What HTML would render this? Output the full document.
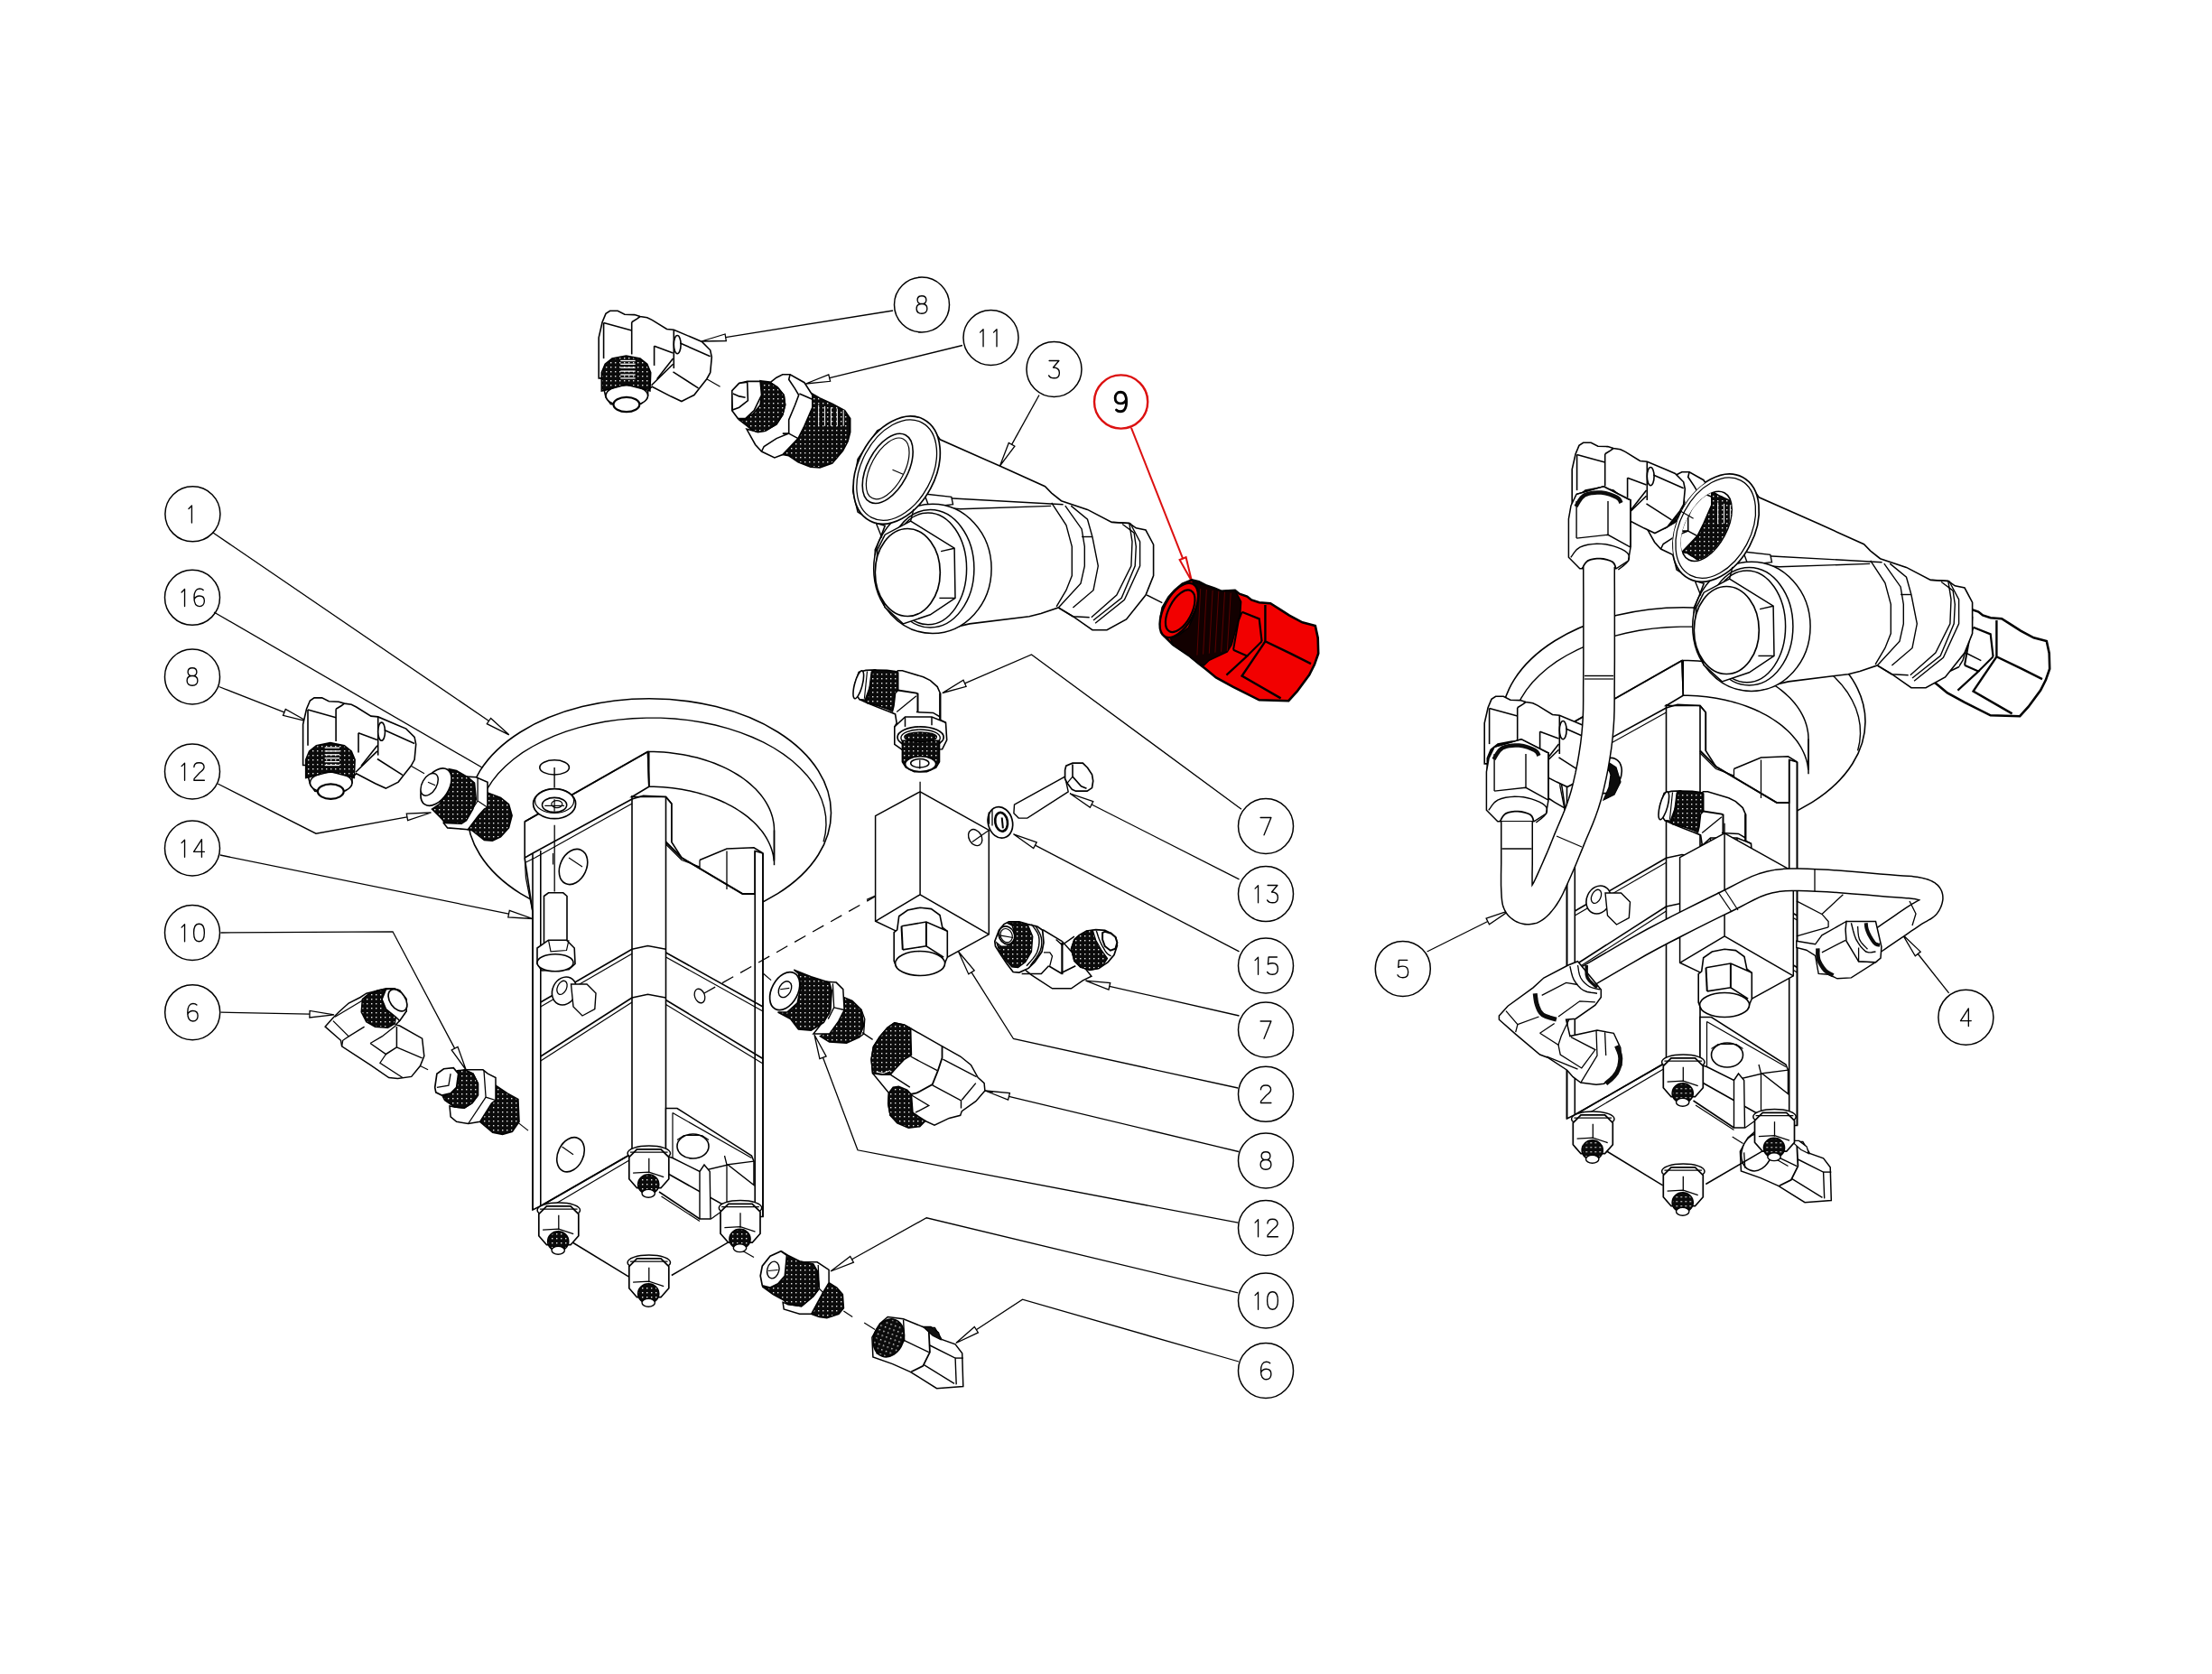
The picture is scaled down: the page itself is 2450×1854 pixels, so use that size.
<!DOCTYPE html>
<html><head><meta charset="utf-8"><style>
html,body{margin:0;padding:0;background:#fff;}
svg{display:block;font-family:"Liberation Sans",sans-serif;}
</style></head><body>
<svg width="2450" height="1854" viewBox="0 0 2450 1854">
<defs><pattern id="thr" width="5" height="5" patternUnits="userSpaceOnUse"><rect width="5" height="5" fill="#0b0b0b"/><rect x="1" y="1" width="1.4" height="1.4" fill="#fff" opacity="0.9"/></pattern><pattern id="thrr" width="5" height="5" patternUnits="userSpaceOnUse"><rect width="5" height="5" fill="#120000"/><rect x="1" y="1" width="1.2" height="1.2" fill="#f00" opacity="0.7"/></pattern></defs>
<rect width="2450" height="1854" fill="#fff"/>
<circle cx="1021.0" cy="337.5" r="30.5" fill="none" stroke="#000" stroke-width="1.5"/>
<path d="M6,9 C2.8,9 1,7.3 1,4.6 C1,1.8 3,0 6,0 C9,0 11,1.8 11,4.6 C11,7.3 9.2,9 6,9 C2.3,9 0,11 0,14.4 C0,17.8 2.4,20 6,20 C9.6,20 12,17.8 12,14.4 C12,11 9.7,9 6,9 Z" transform="translate(1015.12 327.70) scale(0.9800)" fill="none" stroke="#000" stroke-width="1.378" stroke-linejoin="round" stroke-linecap="round"/>
<circle cx="1097.5" cy="374.0" r="30.5" fill="none" stroke="#000" stroke-width="1.5"/>
<path d="M2.5,4 L6,0.5 L6,20" transform="translate(1083.16 364.20) scale(0.9800)" fill="none" stroke="#000" stroke-width="1.378" stroke-linejoin="round" stroke-linecap="round"/>
<path d="M2.5,4 L6,0.5 L6,20" transform="translate(1098.12 364.20) scale(0.9800)" fill="none" stroke="#000" stroke-width="1.378" stroke-linejoin="round" stroke-linecap="round"/>
<circle cx="1167.5" cy="409.0" r="30.5" fill="none" stroke="#000" stroke-width="1.5"/>
<path d="M0.5,0.3 L11.5,0.3 L5,8 C9,8 12,10 12,14 C12,18 9.5,20 6,20 C3,20 1,19 0,17" transform="translate(1161.62 399.20) scale(0.9800)" fill="none" stroke="#000" stroke-width="1.378" stroke-linejoin="round" stroke-linecap="round"/>
<circle cx="1241.6" cy="445.0" r="29.6" fill="none" stroke="#dc1010" stroke-width="2.4"/>
<path d="M1.2,18.4 C2.2,19.5 3.8,20 5.4,20 C9.4,20 11.6,16.4 11.6,10 C11.6,3.6 9.4,0 5.5,0 C2,0 0,2.6 0,6.1 C0,9.6 2.1,11.8 5.5,11.8 C8.6,11.8 10.6,10.2 11.6,7.5" transform="translate(1235.15 434.25) scale(1.0750)" fill="none" stroke="#000" stroke-width="2.605" stroke-linejoin="round" stroke-linecap="round"/>
<circle cx="213.4" cy="569.3" r="30.5" fill="none" stroke="#000" stroke-width="1.5"/>
<path d="M2.5,4 L6,0.5 L6,20" transform="translate(206.54 559.50) scale(0.9800)" fill="none" stroke="#000" stroke-width="1.378" stroke-linejoin="round" stroke-linecap="round"/>
<circle cx="213.0" cy="661.8" r="30.5" fill="none" stroke="#000" stroke-width="1.5"/>
<path d="M2.5,4 L6,0.5 L6,20" transform="translate(198.66 652.00) scale(0.9800)" fill="none" stroke="#000" stroke-width="1.378" stroke-linejoin="round" stroke-linecap="round"/>
<path d="M10.8,1.6 C9.8,0.5 8.2,0 6.6,0 C2.6,0 0.4,3.6 0.4,10 C0.4,16.4 2.6,20 6.5,20 C10,20 12,17.4 12,13.9 C12,10.4 9.9,8.2 6.5,8.2 C3.4,8.2 1.4,9.8 0.4,12.5" transform="translate(214.60 652.00) scale(0.9800)" fill="none" stroke="#000" stroke-width="1.378" stroke-linejoin="round" stroke-linecap="round"/>
<circle cx="213.0" cy="749.5" r="30.5" fill="none" stroke="#000" stroke-width="1.5"/>
<path d="M6,9 C2.8,9 1,7.3 1,4.6 C1,1.8 3,0 6,0 C9,0 11,1.8 11,4.6 C11,7.3 9.2,9 6,9 C2.3,9 0,11 0,14.4 C0,17.8 2.4,20 6,20 C9.6,20 12,17.8 12,14.4 C12,11 9.7,9 6,9 Z" transform="translate(207.12 739.70) scale(0.9800)" fill="none" stroke="#000" stroke-width="1.378" stroke-linejoin="round" stroke-linecap="round"/>
<circle cx="213.0" cy="854.5" r="30.5" fill="none" stroke="#000" stroke-width="1.5"/>
<path d="M2.5,4 L6,0.5 L6,20" transform="translate(198.66 844.70) scale(0.9800)" fill="none" stroke="#000" stroke-width="1.378" stroke-linejoin="round" stroke-linecap="round"/>
<path d="M0.3,5 C0.3,1.8 2.5,0 6,0 C9.5,0 11.7,1.8 11.7,5 C11.7,8 9,9.5 6.5,11.5 L0.5,18 L0.3,20 L12,20" transform="translate(214.60 844.70) scale(0.9800)" fill="none" stroke="#000" stroke-width="1.378" stroke-linejoin="round" stroke-linecap="round"/>
<circle cx="213.0" cy="939.5" r="30.5" fill="none" stroke="#000" stroke-width="1.5"/>
<path d="M2.5,4 L6,0.5 L6,20" transform="translate(198.66 929.70) scale(0.9800)" fill="none" stroke="#000" stroke-width="1.378" stroke-linejoin="round" stroke-linecap="round"/>
<path d="M9,20 L9,0 L0,14 L12,14" transform="translate(214.60 929.70) scale(0.9800)" fill="none" stroke="#000" stroke-width="1.378" stroke-linejoin="round" stroke-linecap="round"/>
<circle cx="213.0" cy="1033.0" r="30.5" fill="none" stroke="#000" stroke-width="1.5"/>
<path d="M2.5,4 L6,0.5 L6,20" transform="translate(198.66 1023.20) scale(0.9800)" fill="none" stroke="#000" stroke-width="1.378" stroke-linejoin="round" stroke-linecap="round"/>
<path d="M6,0 C1.5,0 0,4 0,10 C0,16 1.5,20 6,20 C10.5,20 12,16 12,10 C12,4 10.5,0 6,0 Z" transform="translate(214.60 1023.20) scale(0.9800)" fill="none" stroke="#000" stroke-width="1.378" stroke-linejoin="round" stroke-linecap="round"/>
<circle cx="213.2" cy="1121.2" r="30.5" fill="none" stroke="#000" stroke-width="1.5"/>
<path d="M10.8,1.6 C9.8,0.5 8.2,0 6.6,0 C2.6,0 0.4,3.6 0.4,10 C0.4,16.4 2.6,20 6.5,20 C10,20 12,17.4 12,13.9 C12,10.4 9.9,8.2 6.5,8.2 C3.4,8.2 1.4,9.8 0.4,12.5" transform="translate(207.37 1111.45) scale(0.9800)" fill="none" stroke="#000" stroke-width="1.378" stroke-linejoin="round" stroke-linecap="round"/>
<circle cx="1402.0" cy="915.0" r="30.5" fill="none" stroke="#000" stroke-width="1.5"/>
<path d="M0,0.3 L12,0.3 L4,20" transform="translate(1396.12 905.20) scale(0.9800)" fill="none" stroke="#000" stroke-width="1.378" stroke-linejoin="round" stroke-linecap="round"/>
<circle cx="1402.0" cy="990.0" r="30.5" fill="none" stroke="#000" stroke-width="1.5"/>
<path d="M2.5,4 L6,0.5 L6,20" transform="translate(1387.66 980.20) scale(0.9800)" fill="none" stroke="#000" stroke-width="1.378" stroke-linejoin="round" stroke-linecap="round"/>
<path d="M0.5,0.3 L11.5,0.3 L5,8 C9,8 12,10 12,14 C12,18 9.5,20 6,20 C3,20 1,19 0,17" transform="translate(1403.60 980.20) scale(0.9800)" fill="none" stroke="#000" stroke-width="1.378" stroke-linejoin="round" stroke-linecap="round"/>
<circle cx="1402.0" cy="1069.5" r="30.5" fill="none" stroke="#000" stroke-width="1.5"/>
<path d="M2.5,4 L6,0.5 L6,20" transform="translate(1387.66 1059.70) scale(0.9800)" fill="none" stroke="#000" stroke-width="1.378" stroke-linejoin="round" stroke-linecap="round"/>
<path d="M11,0.3 L1.5,0.3 L0.8,8.5 C2.3,7.6 4.2,7.2 6,7.2 C9.7,7.2 12,9.7 12,13.6 C12,17.6 9.5,20 6,20 C3,20 1,19 0,17" transform="translate(1403.60 1059.70) scale(0.9800)" fill="none" stroke="#000" stroke-width="1.378" stroke-linejoin="round" stroke-linecap="round"/>
<circle cx="1402.0" cy="1140.5" r="30.5" fill="none" stroke="#000" stroke-width="1.5"/>
<path d="M0,0.3 L12,0.3 L4,20" transform="translate(1396.12 1130.70) scale(0.9800)" fill="none" stroke="#000" stroke-width="1.378" stroke-linejoin="round" stroke-linecap="round"/>
<circle cx="1402.0" cy="1211.8" r="30.5" fill="none" stroke="#000" stroke-width="1.5"/>
<path d="M0.3,5 C0.3,1.8 2.5,0 6,0 C9.5,0 11.7,1.8 11.7,5 C11.7,8 9,9.5 6.5,11.5 L0.5,18 L0.3,20 L12,20" transform="translate(1396.12 1201.95) scale(0.9800)" fill="none" stroke="#000" stroke-width="1.378" stroke-linejoin="round" stroke-linecap="round"/>
<circle cx="1402.0" cy="1285.5" r="30.5" fill="none" stroke="#000" stroke-width="1.5"/>
<path d="M6,9 C2.8,9 1,7.3 1,4.6 C1,1.8 3,0 6,0 C9,0 11,1.8 11,4.6 C11,7.3 9.2,9 6,9 C2.3,9 0,11 0,14.4 C0,17.8 2.4,20 6,20 C9.6,20 12,17.8 12,14.4 C12,11 9.7,9 6,9 Z" transform="translate(1396.12 1275.70) scale(0.9800)" fill="none" stroke="#000" stroke-width="1.378" stroke-linejoin="round" stroke-linecap="round"/>
<circle cx="1402.0" cy="1360.0" r="30.5" fill="none" stroke="#000" stroke-width="1.5"/>
<path d="M2.5,4 L6,0.5 L6,20" transform="translate(1387.66 1350.20) scale(0.9800)" fill="none" stroke="#000" stroke-width="1.378" stroke-linejoin="round" stroke-linecap="round"/>
<path d="M0.3,5 C0.3,1.8 2.5,0 6,0 C9.5,0 11.7,1.8 11.7,5 C11.7,8 9,9.5 6.5,11.5 L0.5,18 L0.3,20 L12,20" transform="translate(1403.60 1350.20) scale(0.9800)" fill="none" stroke="#000" stroke-width="1.378" stroke-linejoin="round" stroke-linecap="round"/>
<circle cx="1402.0" cy="1440.5" r="30.5" fill="none" stroke="#000" stroke-width="1.5"/>
<path d="M2.5,4 L6,0.5 L6,20" transform="translate(1387.66 1430.70) scale(0.9800)" fill="none" stroke="#000" stroke-width="1.378" stroke-linejoin="round" stroke-linecap="round"/>
<path d="M6,0 C1.5,0 0,4 0,10 C0,16 1.5,20 6,20 C10.5,20 12,16 12,10 C12,4 10.5,0 6,0 Z" transform="translate(1403.60 1430.70) scale(0.9800)" fill="none" stroke="#000" stroke-width="1.378" stroke-linejoin="round" stroke-linecap="round"/>
<circle cx="1402.0" cy="1518.0" r="30.5" fill="none" stroke="#000" stroke-width="1.5"/>
<path d="M10.8,1.6 C9.8,0.5 8.2,0 6.6,0 C2.6,0 0.4,3.6 0.4,10 C0.4,16.4 2.6,20 6.5,20 C10,20 12,17.4 12,13.9 C12,10.4 9.9,8.2 6.5,8.2 C3.4,8.2 1.4,9.8 0.4,12.5" transform="translate(1396.12 1508.20) scale(0.9800)" fill="none" stroke="#000" stroke-width="1.378" stroke-linejoin="round" stroke-linecap="round"/>
<circle cx="1553.8" cy="1072.9" r="30.5" fill="none" stroke="#000" stroke-width="1.5"/>
<path d="M11,0.3 L1.5,0.3 L0.8,8.5 C2.3,7.6 4.2,7.2 6,7.2 C9.7,7.2 12,9.7 12,13.6 C12,17.6 9.5,20 6,20 C3,20 1,19 0,17" transform="translate(1547.92 1063.10) scale(0.9800)" fill="none" stroke="#000" stroke-width="1.378" stroke-linejoin="round" stroke-linecap="round"/>
<circle cx="2177.4" cy="1126.7" r="30.5" fill="none" stroke="#000" stroke-width="1.5"/>
<path d="M9,20 L9,0 L0,14 L12,14" transform="translate(2171.52 1116.90) scale(0.9800)" fill="none" stroke="#000" stroke-width="1.378" stroke-linejoin="round" stroke-linecap="round"/>
<path d="M989.0,344.0 L803.7,373.7" stroke="#000" stroke-width="1.3" fill="none"/>
<path d="M777.0,378.0 L803.1,370.0 L804.3,377.5 Z" stroke="#000" stroke-width="1.3" fill="none"/>
<path d="M1066.0,382.5 L918.7,418.6" stroke="#000" stroke-width="1.3" fill="none"/>
<path d="M892.5,425.0 L917.8,414.9 L919.6,422.3 Z" stroke="#000" stroke-width="1.3" fill="none"/>
<path d="M1151.0,437.5 L1120.6,492.4" stroke="#000" stroke-width="1.3" fill="none"/>
<path d="M1107.5,516.0 L1117.3,490.5 L1123.9,494.2 Z" stroke="#000" stroke-width="1.3" fill="none"/>
<path d="M1253.0,473.8 L1310.1,618.6" stroke="#dc1010" stroke-width="2.0" fill="none"/>
<path d="M1320.0,643.8 L1306.6,620.0 L1313.6,617.2 Z" stroke="#dc1010" stroke-width="2.0" fill="none"/>
<path d="M236.0,590.0 L541.5,798.5" stroke="#000" stroke-width="1.3" fill="none"/>
<path d="M563.8,813.8 L539.3,801.7 L543.6,795.4 Z" stroke="#000" stroke-width="1.3" fill="none"/>
<path d="M237.0,678.0 L566.6,869.0" stroke="#000" stroke-width="1.3" fill="none"/>
<path d="M590.0,882.5 L564.7,872.3 L568.5,865.7 Z" stroke="#000" stroke-width="1.3" fill="none"/>
<path d="M242.5,760.5 L314.9,788.9" stroke="#000" stroke-width="1.3" fill="none"/>
<path d="M340.0,798.8 L313.5,792.4 L316.3,785.4 Z" stroke="#000" stroke-width="1.3" fill="none"/>
<path d="M241.2,868.0 L350.0,923.2 L450.9,904.8" stroke="#000" stroke-width="1.3" fill="none"/>
<path d="M477.5,900.0 L451.6,908.6 L450.3,901.1 Z" stroke="#000" stroke-width="1.3" fill="none"/>
<path d="M243.8,947.0 L563.5,1012.1" stroke="#000" stroke-width="1.3" fill="none"/>
<path d="M590.0,1017.5 L562.8,1015.8 L564.3,1008.4 Z" stroke="#000" stroke-width="1.3" fill="none"/>
<path d="M244.5,1033.0 L435.0,1031.8 L503.6,1161.1" stroke="#000" stroke-width="1.3" fill="none"/>
<path d="M516.2,1185.0 L500.2,1162.9 L507.0,1159.4 Z" stroke="#000" stroke-width="1.3" fill="none"/>
<path d="M244.5,1121.2 L343.0,1123.2" stroke="#000" stroke-width="1.3" fill="none"/>
<path d="M370.0,1123.8 L342.9,1127.0 L343.1,1119.4 Z" stroke="#000" stroke-width="1.3" fill="none"/>
<path d="M1375.0,896.2 L1142.5,725.0 L1068.6,756.8" stroke="#000" stroke-width="1.3" fill="none"/>
<path d="M1043.8,767.5 L1067.0,753.3 L1070.1,760.3 Z" stroke="#000" stroke-width="1.3" fill="none"/>
<path d="M1372.5,973.8 L1209.1,891.0" stroke="#000" stroke-width="1.3" fill="none"/>
<path d="M1185.0,878.8 L1210.8,887.6 L1207.4,894.3 Z" stroke="#000" stroke-width="1.3" fill="none"/>
<path d="M1372.5,1053.8 L1146.5,936.2" stroke="#000" stroke-width="1.3" fill="none"/>
<path d="M1122.5,923.8 L1148.2,932.8 L1144.7,939.6 Z" stroke="#000" stroke-width="1.3" fill="none"/>
<path d="M1372.5,1125.0 L1228.8,1092.3" stroke="#000" stroke-width="1.3" fill="none"/>
<path d="M1202.5,1086.2 L1229.7,1088.5 L1228.0,1096.0 Z" stroke="#000" stroke-width="1.3" fill="none"/>
<path d="M1371.2,1205.0 L1122.5,1150.5 L1076.0,1076.8" stroke="#000" stroke-width="1.3" fill="none"/>
<path d="M1061.6,1054.0 L1079.2,1074.8 L1072.8,1078.9 Z" stroke="#000" stroke-width="1.3" fill="none"/>
<path d="M1372.0,1275.5 L1117.5,1214.3" stroke="#000" stroke-width="1.3" fill="none"/>
<path d="M1091.2,1208.0 L1118.4,1210.6 L1116.6,1218.0 Z" stroke="#000" stroke-width="1.3" fill="none"/>
<path d="M1371.2,1354.2 L950.0,1273.8 L911.5,1171.3" stroke="#000" stroke-width="1.3" fill="none"/>
<path d="M902.0,1146.0 L915.1,1169.9 L907.9,1172.6 Z" stroke="#000" stroke-width="1.3" fill="none"/>
<path d="M1371.2,1431.8 L1026.2,1348.8 L943.6,1394.8" stroke="#000" stroke-width="1.3" fill="none"/>
<path d="M920.0,1408.0 L941.7,1391.5 L945.4,1398.2 Z" stroke="#000" stroke-width="1.3" fill="none"/>
<path d="M1372.0,1508.0 L1132.5,1439.2 L1081.3,1472.7" stroke="#000" stroke-width="1.3" fill="none"/>
<path d="M1058.8,1487.5 L1079.3,1469.5 L1083.4,1475.9 Z" stroke="#000" stroke-width="1.3" fill="none"/>
<path d="M1580.6,1054.0 L1647.8,1020.5" stroke="#000" stroke-width="1.3" fill="none"/>
<path d="M1672.0,1008.4 L1649.5,1023.9 L1646.1,1017.1 Z" stroke="#000" stroke-width="1.3" fill="none"/>
<path d="M2158.6,1099.8 L2124.3,1056.5" stroke="#000" stroke-width="1.3" fill="none"/>
<path d="M2107.5,1035.3 L2127.2,1054.1 L2121.3,1058.8 Z" stroke="#000" stroke-width="1.3" fill="none"/>
<path d="M1285.7,683.5 L1287.6,673.0 L1294.3,661.5 L1301.0,653.9 L1309.6,646.7 L1320.1,642.4 L1327.8,644.3 L1335.4,648.2 L1345.0,651.5 L1352.6,654.8 L1360.3,654.4 L1367.9,653.9 L1372.7,657.7 L1381.3,660.6 L1386.1,664.4 L1394.7,667.3 L1407.1,668.2 L1417.6,674.9 L1428.1,681.6 L1442.5,689.3 L1456.8,693.1 L1459.7,706.5 L1460.2,723.7 L1455.9,736.1 L1450.1,747.6 L1436.7,765.7 L1427.2,776.2 L1394.7,775.3 L1366.0,760.9 L1346.9,750.4 L1336.4,741.8 L1327.8,735.1 L1316.3,725.6 L1299.1,714.1 L1289.6,704.5 Z" stroke="#000" stroke-width="2.6" fill="#f20000"/>
<path d="M1321.1,644.3 L1335.4,648.2 L1352.6,654.8 L1367.9,653.9 L1374.6,666.3 L1373.7,679.7 L1368.9,696.9 L1364.1,714.1 L1359.3,721.8 L1339.3,731.3 L1333.5,737.0 L1327.8,735.1 L1316.3,725.6 L1299.1,714.1 L1296.2,706.5 L1306.8,702.6 L1316.3,695.0 L1322.1,682.6 L1324.0,666.3 L1323.0,653.9 Z" stroke="#000" stroke-width="1.5" fill="#120000"/>
<path d="M1329.7,652.0 L1325.9,725.6" stroke="#5a0000" stroke-width="1.0" fill="none"/>
<path d="M1336.4,652.9 L1332.6,724.6" stroke="#5a0000" stroke-width="1.0" fill="none"/>
<path d="M1343.1,653.9 L1339.3,723.7" stroke="#5a0000" stroke-width="1.0" fill="none"/>
<path d="M1349.8,654.8 L1345.9,722.7" stroke="#5a0000" stroke-width="1.0" fill="none"/>
<path d="M1356.5,655.8 L1352.6,721.8" stroke="#5a0000" stroke-width="1.0" fill="none"/>
<path d="M1363.2,656.8 L1359.3,720.8" stroke="#5a0000" stroke-width="1.0" fill="none"/>
<ellipse cx="1305.8" cy="675.9" rx="33.0" ry="16.5" fill="#f20000" stroke="#000" stroke-width="2.4" transform="rotate(-62.0 1305.8 675.9)"/>
<ellipse cx="1307.2" cy="676.8" rx="25.5" ry="12.5" fill="#f20000" stroke="#000" stroke-width="2.2" transform="rotate(-62.0 1307.2 676.8)"/>
<path d="M1375.6,677.8 L1394.7,685.4 L1397.6,710.3" stroke="#000" stroke-width="2.2" fill="none"/>
<path d="M1366.0,719.8 L1381.3,726.5 L1358.4,747.6" stroke="#000" stroke-width="2.2" fill="none"/>
<path d="M1375.6,677.8 L1371.8,687.3 L1366.0,719.8" stroke="#000" stroke-width="2.0" fill="none"/>
<path d="M1401.4,670.1 L1401.4,710.3 L1429.1,723.7 L1452.0,735.1" stroke="#000" stroke-width="2.4" fill="none"/>
<path d="M1401.4,710.3 L1375.6,748.5 L1418.6,773.4" stroke="#000" stroke-width="2.4" fill="none"/>
<path d="M1397.6,710.3 L1381.3,726.5" stroke="#000" stroke-width="2.0" fill="none"/>
<path d="M663.2,418.9 L663.2,373.8 L667.1,356.7 L671.0,347.4 L675.6,344.3 L684.2,344.3 L691.9,348.2 L702.8,348.6 L709.0,350.5 L716.8,351.7 L722.2,354.4 L738.5,364.5 L746.3,365.3 L766.5,373.8 L777.4,378.5 L786.7,387.8 L788.3,395.6 L786.7,412.7 L782.8,419.7 L774.3,430.5 L768.8,437.5 L754.9,444.5 L743.2,439.1 L722.2,428.2 L717.6,432.1 L717.6,438.3 L710.6,446.8 L694.3,450.0 L676.4,447.6 L671.0,439.9 L667.9,426.7 L666.3,418.9 Z" stroke="#000" stroke-width="1.6" fill="#fff"/>
<path d="M668.6,357.5 L699.7,366.1" stroke="#000" stroke-width="1.6" fill="none"/>
<path d="M668.6,357.5 L668.6,397.1" stroke="#000" stroke-width="1.6" fill="none"/>
<path d="M699.7,356.7 L699.7,392.5" stroke="#000" stroke-width="1.6" fill="none"/>
<path d="M699.7,356.7 L705.9,352.9 L709.0,350.5" stroke="#000" stroke-width="1.6" fill="none"/>
<path d="M724.6,383.2 L724.6,404.9" stroke="#000" stroke-width="1.6" fill="none"/>
<path d="M724.6,383.2 L745.5,390.9" stroke="#000" stroke-width="1.6" fill="none"/>
<path d="M746.3,365.3 L746.3,408.0" stroke="#000" stroke-width="1.6" fill="none"/>
<ellipse cx="750.2" cy="381.6" rx="3.9" ry="10.1" fill="#fff" stroke="#000" stroke-width="1.6"/>
<path d="M753.3,380.0 L786.7,394.8" stroke="#000" stroke-width="1.6" fill="none"/>
<path d="M745.5,411.9 L773.5,429.8" stroke="#000" stroke-width="1.6" fill="none"/>
<path d="M721.5,426.7 L745.5,403.3" stroke="#000" stroke-width="1.6" fill="none"/>
<path d="M727.7,419.7 L745.5,397.1" stroke="#000" stroke-width="1.6" fill="none"/>
<path d="M782.8,419.7 L797.6,428.2" stroke="#000" stroke-width="1.2" fill="none"/>
<ellipse cx="694.3" cy="438.3" rx="23.3" ry="11.7" fill="#fff" stroke="#000" stroke-width="1.6"/>
<path d="M666.3,432.9 L666.3,412.7 L670.2,403.3 L678.0,397.1 L693.5,394.0 L709.0,397.1 L716.8,403.3 L720.7,412.7 L719.9,432.9 L716.8,432.1 L693.5,425.9 L670.2,432.1 Z" stroke="#000" stroke-width="1.6" fill="url(#thr)"/>
<path d="M687.3,399.5 L703.6,399.5" stroke="#fff" stroke-width="1.3" fill="none"/>
<path d="M687.3,403.3 L703.6,403.3" stroke="#fff" stroke-width="1.3" fill="none"/>
<path d="M687.3,407.2 L703.6,407.2" stroke="#fff" stroke-width="1.3" fill="none"/>
<path d="M687.3,411.1 L703.6,411.1" stroke="#fff" stroke-width="1.3" fill="none"/>
<path d="M687.3,415.0 L703.6,415.0" stroke="#fff" stroke-width="1.3" fill="none"/>
<path d="M687.3,418.9 L703.6,418.9" stroke="#fff" stroke-width="1.3" fill="none"/>
<ellipse cx="693.9" cy="448.0" rx="14.4" ry="8.2" fill="#fff" stroke="#000" stroke-width="2.2"/>
<path d="M899.8,436.1 L908.1,440.9 L921.8,447.1 L935.6,454.7 L941.7,463.6 L941.7,478.7 L939.0,489.0 L933.5,499.3 L921.8,513.1 L908.1,517.9 L897.8,517.2 L884.0,511.7 L873.7,504.8 L866.8,503.5 L884.0,485.6 L890.9,471.8 L899.8,451.2 Z" stroke="#000" stroke-width="1.6" fill="url(#thr)"/>
<path d="M853.1,423.7 L860.0,418.2 L866.8,414.8 L875.1,414.8 L890.9,423.7 L899.8,437.5 L899.8,451.2 L890.9,471.8 L884.0,485.6 L866.8,503.5 L857.9,506.9 L843.5,500.0 L836.6,492.5 L827.0,475.3 L838.0,478.0 L847.6,477.3 L860.0,469.8 L866.8,459.5 L869.6,448.5 L868.2,437.5 L861.3,429.2 Z" stroke="#000" stroke-width="1.6" fill="#fff"/>
<path d="M875.1,414.8 L873.7,420.3 L880.6,430.6 L884.7,437.5 L880.6,448.5 L873.7,465.0 L873.7,480.1 L866.8,480.1" stroke="#000" stroke-width="1.6" fill="none"/>
<path d="M885.4,436.1 L899.8,442.3" stroke="#000" stroke-width="1.6" fill="none"/>
<path d="M873.7,480.1 L884.0,485.6" stroke="#000" stroke-width="1.6" fill="none"/>
<path d="M843.5,500.0 L846.2,494.5 L860.0,485.6 L873.7,480.1" stroke="#000" stroke-width="1.6" fill="none"/>
<path d="M842.1,421.7 L852.4,423.1 L861.3,429.2 L868.2,437.5 L869.6,448.5 L866.8,459.5 L860.0,469.8 L847.6,477.3 L839.4,478.7 L832.5,476.0 L827.7,471.8 L818.7,465.0 L825.6,463.6 L834.5,458.1 L842.1,448.5 L843.5,437.5 Z" stroke="#000" stroke-width="1.6" fill="url(#thr)"/>
<path d="M810.8,432.7 L818.7,424.4 L827.7,422.4 L842.1,422.4 L843.5,437.5 L835.2,454.7 L825.6,463.6 L817.4,463.6 L810.8,454.7 Z" stroke="#000" stroke-width="1.6" fill="#fff"/>
<path d="M810.8,432.7 L818.7,424.4 L827.7,423.1 L828.4,443.7 L818.7,451.2 L811.2,454.0 Z" stroke="#000" stroke-width="1.6" fill="#fff"/>
<path d="M811.9,436.1 L818.7,438.9 L825.6,440.2" stroke="#000" stroke-width="1.6" fill="none"/>
<path d="M906.7,448.5 L906.7,471.8" stroke="#fff" stroke-width="1.0" fill="none"/>
<path d="M913.6,449.9 L913.6,471.8" stroke="#fff" stroke-width="1.0" fill="none"/>
<path d="M920.4,451.2 L920.4,471.8" stroke="#fff" stroke-width="1.0" fill="none"/>
<path d="M927.3,452.6 L927.3,471.8" stroke="#fff" stroke-width="1.0" fill="none"/>
<path d="M934.2,454.0 L934.2,471.8" stroke="#fff" stroke-width="1.0" fill="none"/>
<path d="M1030.4,471.7 L1041.2,486.8 L1107.3,516.1 L1157.5,538.7 L1164.7,546.1 L1175.5,554.7 L1204.5,564.4 L1231.4,578.4 L1250.8,579.5 L1258.3,584.8 L1269.0,587.0 L1277.6,603.1 L1277.6,637.5 L1269.0,659.0 L1247.5,685.9 L1226.0,697.7 L1209.9,697.7 L1199.1,690.2 L1188.4,682.7 L1172.3,673.0 L1152.9,679.5 L1140.0,682.7 L1073.9,690.9 L1030.4,700.9 L1000.3,690.9 L980.2,672.5 L969.3,642.4 L969.3,608.9 L975.2,595.5 L980.2,582.2 L968.5,578.8 L950.1,567.1 L944.7,543.7 L950.1,508.5 L971.8,476.8 L1003.6,462.5 Z" stroke="#000" stroke-width="1.6" fill="#fff"/>
<path d="M1164.7,556.9 L1180.9,581.6 L1187.3,605.3 L1187.3,637.5 L1180.9,653.7 L1170.1,671.9" stroke="#000" stroke-width="1.4" fill="none"/>
<path d="M1179.8,560.1 L1198.1,585.9 L1201.3,605.3 L1201.3,626.8 L1197.0,646.1 L1172.3,673.0" stroke="#000" stroke-width="1.4" fill="none"/>
<path d="M1186.2,560.1 L1204.5,575.2 L1209.9,594.5 L1216.3,626.8 L1211.0,653.7 L1188.4,673.0" stroke="#000" stroke-width="1.4" fill="none"/>
<path d="M1232.5,578.4 L1250.8,579.5 L1254.0,599.9 L1252.9,626.8 L1236.8,659.0 L1208.8,683.8" stroke="#000" stroke-width="1.4" fill="none"/>
<path d="M1243.2,580.5 L1256.1,590.2 L1258.3,605.3 L1257.2,626.8 L1242.2,662.3 L1211.0,687.0" stroke="#000" stroke-width="1.4" fill="none"/>
<path d="M1251.8,579.5 L1262.6,599.9 L1262.6,626.8 L1245.4,664.4 L1213.1,690.2" stroke="#000" stroke-width="1.4" fill="none"/>
<path d="M1270.1,659.0 L1287.3,667.6" stroke="#000" stroke-width="1.4" fill="none"/>
<path d="M1198.1,594.5 L1209.9,594.5" stroke="#000" stroke-width="1.4" fill="none"/>
<path d="M1172.3,673.0 L1188.4,682.7 L1206.7,683.8" stroke="#000" stroke-width="1.4" fill="none"/>
<path d="M1012.0,549.5 L1055.5,552.0 L1177.6,558.7" stroke="#000" stroke-width="1.4" fill="none"/>
<path d="M1023.7,560.4 L1063.8,563.8 L1164.2,560.4" stroke="#000" stroke-width="1.4" fill="none"/>
<path d="M1012.0,549.5 L1023.7,547.0 L1053.8,550.4 L1055.5,558.7 L1023.7,562.1 L1015.3,557.1 Z" stroke="#000" stroke-width="1.4" fill="#fff"/>
<path d="M1023.7,547.0 L1028.7,560.4" stroke="#000" stroke-width="1.4" fill="none"/>
<ellipse cx="1032.9" cy="629.8" rx="65.2" ry="71.6" fill="#fff" stroke="#000" stroke-width="1.5"/>
<ellipse cx="1030.4" cy="629.8" rx="48.5" ry="65.2" fill="none" stroke="#000" stroke-width="1.5"/>
<ellipse cx="1027.9" cy="629.8" rx="42.7" ry="61.9" fill="none" stroke="#000" stroke-width="1.5"/>
<path d="M971.8,608.9 L980.2,592.2 L1008.6,577.1 L1057.1,607.2 L1058.0,662.4 L1030.4,680.8 L1000.3,690.9 L980.2,672.5 L970.1,642.4 Z" stroke="#000" stroke-width="1.5" fill="#fff"/>
<path d="M1040.4,662.4 L1058.0,662.4" stroke="#000" stroke-width="1.4" fill="none"/>
<path d="M1042.1,610.6 L1057.1,607.2" stroke="#000" stroke-width="1.4" fill="none"/>
<ellipse cx="1005.3" cy="634.0" rx="36.0" ry="48.5" fill="#fff" stroke="#000" stroke-width="1.7"/>
<ellipse cx="993.2" cy="520.6" rx="63.6" ry="42.7" fill="#fff" stroke="#000" stroke-width="1.7" transform="rotate(-62.0 993.2 520.6)"/>
<ellipse cx="993.2" cy="520.6" rx="59.5" ry="39.0" fill="none" stroke="#000" stroke-width="1.3" transform="rotate(-62.0 993.2 520.6)"/>
<ellipse cx="983.2" cy="518.9" rx="42.0" ry="22.5" fill="#fff" stroke="#000" stroke-width="1.6" transform="rotate(-62.0 983.2 518.9)"/>
<ellipse cx="983.2" cy="518.9" rx="37.0" ry="18.5" fill="none" stroke="#000" stroke-width="1.2" transform="rotate(-62.0 983.2 518.9)"/>
<path d="M988.5,520.3 L1000.3,525.3" stroke="#000" stroke-width="1.2" fill="none"/>
<path d="M970.1,578.8 L976.8,595.5" stroke="#000" stroke-width="1.4" fill="none"/>
<path d="M1012.0,563.8 L1008.6,577.1" stroke="#000" stroke-width="1.4" fill="none"/>
<ellipse cx="719.0" cy="900.2" rx="201.5" ry="126.5" fill="#fff" stroke="#000" stroke-width="1.6"/>
<path d="M529.7,901.8 L531.7,892.4 L534.9,883.2 L539.4,874.1 L545.0,865.3 L551.8,856.8 L559.7,848.7 L568.6,841.0 L578.6,833.7 L589.5,827.0 L601.2,820.8 L613.7,815.1 L627.0,810.2 L640.8,805.9 L655.2,802.2 L670.0,799.3 L685.2,797.1 L700.6,795.7 L716.1,795.1 L731.7,795.1 L747.2,796.0 L762.5,797.6 L777.6,800.0 L792.3,803.0 L806.6,806.8 L820.3,811.3 L833.4,816.5 L845.7,822.2 L857.3,828.5 L867.9,835.4 L877.6,842.8 L886.3,850.7 L894.0,858.9 L900.5,867.5 L905.8,876.3 L910.0,885.4 L912.9,894.7 L914.6,904.1 L915.0,913.5 L914.2,923.0 L912.1,932.3" stroke="#000" stroke-width="1.4" fill="none"/>
<path d="M718.8,832.5 L718.8,832.5 L724.2,832.6 L729.6,832.8 L735.1,833.1 L740.5,833.6 L745.8,834.2 L751.1,834.9 L756.4,835.8 L761.6,836.8 L766.8,837.9 L771.8,839.1 L776.8,840.5 L781.7,842.0 L786.5,843.6 L791.2,845.3 L795.8,847.2 L800.3,849.1 L804.6,851.2 L808.9,853.3 L812.9,855.6 L816.9,858.0 L820.6,860.4 L824.3,863.0 L827.7,865.6 L831.0,868.4 L834.1,871.2 L837.1,874.0 L839.8,877.0 L842.4,880.0 L844.8,883.1 L846.9,886.2 L848.9,889.4 L850.7,892.6 L852.3,895.9 L853.7,899.2 L854.8,902.5 L855.8,905.9 L856.5,909.3 L857.1,912.7 L857.4,916.1 L857.5,919.5 L857.5,952.0 L857.3,953.7 L856.9,950.4 L856.4,947.1 L855.6,943.9 L854.6,940.6 L853.5,937.4 L852.1,934.2 L850.5,931.0 L848.8,927.9 L846.9,924.9 L844.8,921.8 L842.5,918.9 L840.0,915.9 L837.3,913.1 L834.5,910.3 L831.5,907.6 L828.4,904.9 L825.1,902.4 L821.6,899.9 L818.0,897.5 L814.3,895.1 L810.4,892.9 L806.4,890.8 L802.2,888.7 L797.9,886.8 L793.6,885.0 L789.1,883.2 L784.5,881.6 L779.8,880.1 L775.0,878.7 L770.2,877.4 L765.2,876.3 L760.2,875.2 L755.2,874.3 L750.1,873.5 L744.9,872.8 L739.7,872.3 L734.5,871.8 L729.3,871.5 L724.0,871.3 L718.8,871.2 Z" stroke="#000" stroke-width="1.5" fill="#fff"/>
<path d="M857.5,919.5 L857.5,958.2" stroke="#000" stroke-width="1.5" fill="none"/>
<path d="M581.2,910.0 L717.5,832.5 L718.8,871.2 L700.0,882.5 L737.5,882.5 L743.8,890.0 L743.8,932.5 L755.0,950.0 L822.5,990.0 L836.2,990.0 L836.2,942.5 L845.0,945.0 L845.0,1178.0 L845.0,1347.5 L836.0,1347.5 L820.0,1345.0 L700.0,1277.5 L600.0,1335.0 L590.0,1340.0 L590.0,1010.0 L581.2,950.0 Z" stroke="#000" stroke-width="1.6" fill="#fff"/>
<path d="M717.5,832.5 L718.8,871.2" stroke="#000" stroke-width="1.6" fill="none"/>
<path d="M581.2,910.0 L717.5,832.5" stroke="#000" stroke-width="1.6" fill="none"/>
<path d="M581.2,950.0 L590.0,945.0 L700.0,885.0" stroke="#000" stroke-width="1.6" fill="none"/>
<path d="M582.5,955.0 L592.5,950.0 L700.0,890.0" stroke="#000" stroke-width="1.2" fill="none"/>
<path d="M700.0,881.0 L700.0,1277.5" stroke="#000" stroke-width="1.6" fill="none"/>
<path d="M737.5,883.0 L737.5,1277.5" stroke="#000" stroke-width="1.6" fill="none"/>
<path d="M700.0,885.0 L712.5,881.2 L737.5,882.5 L743.8,890.0 L743.8,932.5" stroke="#000" stroke-width="1.6" fill="none"/>
<path d="M836.2,942.5 L836.2,1347.5" stroke="#000" stroke-width="1.6" fill="none"/>
<path d="M845.0,945.0 L845.0,1347.5" stroke="#000" stroke-width="1.6" fill="none"/>
<path d="M590.0,945.0 L590.0,1340.0" stroke="#000" stroke-width="1.6" fill="none"/>
<path d="M598.8,942.0 L598.8,1335.0" stroke="#000" stroke-width="1.6" fill="none"/>
<path d="M581.2,950.0 L582.5,972.5 L590.0,1010.0" stroke="#000" stroke-width="1.3" fill="none"/>
<path d="M737.5,932.5 L755.0,950.0 L822.5,990.0 L836.2,990.0" stroke="#000" stroke-width="2.0" fill="none"/>
<path d="M775.0,952.5 L805.0,940.0 L835.0,938.8 L845.0,945.0" stroke="#000" stroke-width="1.6" fill="none"/>
<path d="M805.0,942.5 L805.0,985.0" stroke="#000" stroke-width="1.3" fill="none"/>
<path d="M775.0,952.5 L775.0,962.5" stroke="#000" stroke-width="1.3" fill="none"/>
<path d="M737.5,935.0 L755.0,952.5 L775.0,960.0" stroke="#000" stroke-width="1.3" fill="none"/>
<path d="M598.8,1110.0 L700.0,1051.2" stroke="#000" stroke-width="1.6" fill="none"/>
<path d="M598.8,1115.0 L700.0,1056.2" stroke="#000" stroke-width="1.2" fill="none"/>
<path d="M700.0,1051.2 L717.5,1047.5 L737.5,1051.2" stroke="#000" stroke-width="1.6" fill="none"/>
<path d="M737.5,1055.0 L845.0,1115.0" stroke="#000" stroke-width="1.6" fill="none"/>
<path d="M737.5,1060.0 L845.0,1120.0" stroke="#000" stroke-width="1.2" fill="none"/>
<path d="M598.8,1170.0 L700.0,1105.0" stroke="#000" stroke-width="1.6" fill="none"/>
<path d="M598.8,1175.0 L700.0,1110.0" stroke="#000" stroke-width="1.2" fill="none"/>
<path d="M700.0,1105.0 L717.5,1101.2 L737.5,1105.0" stroke="#000" stroke-width="1.6" fill="none"/>
<path d="M737.5,1107.5 L845.0,1172.5" stroke="#000" stroke-width="1.6" fill="none"/>
<path d="M737.5,1112.5 L845.0,1178.0" stroke="#000" stroke-width="1.2" fill="none"/>
<path d="M614.2,913.8 L614.2,987.5" stroke="#000" stroke-width="1.3" fill="none"/>
<path d="M602.5,992.5 L607.5,988.8 L623.8,988.8 L628.0,992.5 L628.0,1043.8 L602.5,1043.8 Z" stroke="#000" stroke-width="1.6" fill="#fff"/>
<path d="M595.0,1050.0 L607.5,1041.2 L627.5,1041.2 L636.2,1050.0 L637.0,1067.5 L630.0,1073.8 L600.0,1075.0 L595.0,1067.5 Z" stroke="#000" stroke-width="1.6" fill="#fff"/>
<path d="M607.5,1041.2 L610.0,1053.8 L627.5,1052.5 L630.0,1041.2" stroke="#000" stroke-width="1.2" fill="none"/>
<ellipse cx="615.0" cy="1066.2" rx="20.0" ry="9.5" fill="#fff" stroke="#000" stroke-width="1.6"/>
<ellipse cx="635.0" cy="960.0" rx="14.5" ry="20.5" fill="#fff" stroke="#000" stroke-width="1.6" transform="rotate(25.0 635.0 960.0)"/>
<path d="M630.0,950.0 L645.0,960.0" stroke="#000" stroke-width="1.2" fill="none"/>
<path d="M612.5,945.0 L612.5,957.5" stroke="#000" stroke-width="1.2" fill="none"/>
<ellipse cx="632.0" cy="1278.8" rx="14.0" ry="20.0" fill="#fff" stroke="#000" stroke-width="1.6" transform="rotate(25.0 632.0 1278.8)"/>
<path d="M622.5,1270.0 L635.0,1278.8" stroke="#000" stroke-width="1.2" fill="none"/>
<ellipse cx="625.0" cy="1097.5" rx="13.0" ry="16.0" fill="#fff" stroke="#000" stroke-width="1.6" transform="rotate(25.0 625.0 1097.5)"/>
<ellipse cx="622.5" cy="1093.8" rx="5.0" ry="8.0" fill="none" stroke="#000" stroke-width="1.3" transform="rotate(25.0 622.5 1093.8)"/>
<path d="M632.5,1090.0 L650.0,1090.0 L660.0,1100.0 L658.8,1117.5 L645.0,1125.0 L635.0,1115.0 Z" stroke="#000" stroke-width="1.4" fill="#fff"/>
<ellipse cx="775.0" cy="1103.0" rx="5.5" ry="8.0" fill="#fff" stroke="#000" stroke-width="1.3" transform="rotate(-20.0 775.0 1103.0)"/>
<path d="M780.0,1100.0 L970.0,992.5" stroke="#000" stroke-width="1.3" fill="none" stroke-dasharray="14,9"/>
<path d="M600.0,1335.0 L700.0,1277.5" stroke="#000" stroke-width="1.6" fill="none"/>
<path d="M603.8,1340.0 L701.2,1282.5" stroke="#000" stroke-width="1.2" fill="none"/>
<path d="M737.5,1227.5 L750.0,1227.5 L832.5,1280.0 L835.0,1286.2 L835.0,1312.5 L806.2,1290.0 L775.0,1297.5 L745.0,1282.5 L737.5,1280.0 Z" stroke="#000" stroke-width="1.5" fill="#fff"/>
<path d="M745.0,1232.5 L832.5,1282.5" stroke="#000" stroke-width="1.2" fill="none"/>
<path d="M745.0,1232.5 L745.0,1282.5" stroke="#000" stroke-width="1.2" fill="none"/>
<path d="M802.5,1280.0 L805.0,1290.0 L835.0,1286.2" stroke="#000" stroke-width="1.3" fill="none"/>
<ellipse cx="767.5" cy="1269.5" rx="17.5" ry="13.5" fill="#fff" stroke="#000" stroke-width="1.6"/>
<path d="M750.0,1262.5 L757.5,1257.5 L777.5,1257.5 L785.0,1262.5" stroke="#000" stroke-width="1.2" fill="none"/>
<path d="M775.0,1297.5 L780.0,1290.0 L786.2,1297.5 L787.0,1350.0 L775.0,1350.0 Z" stroke="#000" stroke-width="1.4" fill="#fff"/>
<path d="M730.0,1320.0 L775.0,1350.0" stroke="#000" stroke-width="1.6" fill="none"/>
<path d="M732.5,1325.0 L775.0,1352.5" stroke="#000" stroke-width="1.2" fill="none"/>
<path d="M787.5,1350.0 L805.0,1337.5" stroke="#000" stroke-width="1.3" fill="none"/>
<path d="M805.0,1290.0 L805.0,1337.5" stroke="#000" stroke-width="1.3" fill="none"/>
<path d="M632.5,1375.0 L696.2,1413.8" stroke="#000" stroke-width="1.5" fill="none"/>
<path d="M743.8,1412.5 L806.2,1376.2" stroke="#000" stroke-width="1.5" fill="none"/>
<path d="M817.5,1382.5 L835.0,1392.5" stroke="#000" stroke-width="1.2" fill="none"/>
<ellipse cx="718.8" cy="1277.2" rx="23.7" ry="8.2" fill="#fff" stroke="#000" stroke-width="1.5"/>
<path d="M696.8,1281.6 L705.5,1272.8 L732.0,1272.8 L740.8,1281.6 L740.8,1305.8 L732.0,1315.7 L705.5,1315.7 L696.8,1305.8 Z" stroke="#000" stroke-width="1.7" fill="#fff"/>
<path d="M697.9,1276.1 L739.6,1276.1" stroke="#000" stroke-width="1.2" fill="none"/>
<path d="M718.8,1282.7 L718.8,1299.2" stroke="#000" stroke-width="1.3" fill="none"/>
<path d="M701.1,1299.2 L718.8,1298.1 L735.2,1303.6" stroke="#000" stroke-width="1.3" fill="none"/>
<ellipse cx="718.2" cy="1311.8" rx="11.6" ry="11.0" fill="url(#thr)" stroke="#000" stroke-width="1.5"/>
<ellipse cx="718.2" cy="1321.8" rx="7.2" ry="4.4" fill="#fff" stroke="#000" stroke-width="1.4"/>
<ellipse cx="618.8" cy="1340.2" rx="23.7" ry="8.2" fill="#fff" stroke="#000" stroke-width="1.5"/>
<path d="M596.8,1344.6 L605.5,1335.8 L632.0,1335.8 L640.8,1344.6 L640.8,1368.8 L632.0,1378.7 L605.5,1378.7 L596.8,1368.8 Z" stroke="#000" stroke-width="1.7" fill="#fff"/>
<path d="M597.9,1339.1 L639.6,1339.1" stroke="#000" stroke-width="1.2" fill="none"/>
<path d="M618.8,1345.7 L618.8,1362.2" stroke="#000" stroke-width="1.3" fill="none"/>
<path d="M601.1,1362.2 L618.8,1361.1 L635.2,1366.6" stroke="#000" stroke-width="1.3" fill="none"/>
<ellipse cx="618.2" cy="1374.8" rx="11.6" ry="11.0" fill="url(#thr)" stroke="#000" stroke-width="1.5"/>
<ellipse cx="618.2" cy="1384.8" rx="7.2" ry="4.4" fill="#fff" stroke="#000" stroke-width="1.4"/>
<ellipse cx="820.0" cy="1337.7" rx="23.7" ry="8.2" fill="#fff" stroke="#000" stroke-width="1.5"/>
<path d="M798.0,1342.1 L806.8,1333.3 L833.2,1333.3 L842.0,1342.1 L842.0,1366.3 L833.2,1376.2 L806.8,1376.2 L798.0,1366.3 Z" stroke="#000" stroke-width="1.7" fill="#fff"/>
<path d="M799.1,1336.6 L840.9,1336.6" stroke="#000" stroke-width="1.2" fill="none"/>
<path d="M820.0,1343.2 L820.0,1359.7" stroke="#000" stroke-width="1.3" fill="none"/>
<path d="M802.4,1359.7 L820.0,1358.6 L836.5,1364.1" stroke="#000" stroke-width="1.3" fill="none"/>
<ellipse cx="819.5" cy="1372.3" rx="11.6" ry="11.0" fill="url(#thr)" stroke="#000" stroke-width="1.5"/>
<ellipse cx="819.5" cy="1382.2" rx="7.2" ry="4.4" fill="#fff" stroke="#000" stroke-width="1.4"/>
<ellipse cx="718.8" cy="1398.2" rx="23.7" ry="8.2" fill="#fff" stroke="#000" stroke-width="1.5"/>
<path d="M696.8,1402.6 L705.5,1393.8 L732.0,1393.8 L740.8,1402.6 L740.8,1426.8 L732.0,1436.7 L705.5,1436.7 L696.8,1426.8 Z" stroke="#000" stroke-width="1.7" fill="#fff"/>
<path d="M697.9,1397.1 L739.6,1397.1" stroke="#000" stroke-width="1.2" fill="none"/>
<path d="M718.8,1403.7 L718.8,1420.2" stroke="#000" stroke-width="1.3" fill="none"/>
<path d="M701.1,1420.2 L718.8,1419.1 L735.2,1424.6" stroke="#000" stroke-width="1.3" fill="none"/>
<ellipse cx="718.2" cy="1432.8" rx="11.6" ry="11.0" fill="url(#thr)" stroke="#000" stroke-width="1.5"/>
<ellipse cx="718.2" cy="1442.8" rx="7.2" ry="4.4" fill="#fff" stroke="#000" stroke-width="1.4"/>
<path d="M335.6,847.5 L335.6,802.4 L339.5,785.3 L343.4,776.0 L348.0,772.9 L356.6,772.9 L364.3,776.8 L375.2,777.2 L381.4,779.1 L389.2,780.3 L394.6,783.0 L410.9,793.1 L418.7,793.9 L438.9,802.4 L449.8,807.1 L459.1,816.4 L460.7,824.2 L459.1,841.3 L455.2,848.3 L446.7,859.1 L441.2,866.1 L427.3,873.1 L415.6,867.7 L394.6,856.8 L390.0,860.7 L390.0,866.9 L383.0,875.4 L366.7,878.6 L348.8,876.2 L343.4,868.5 L340.3,855.3 L338.7,847.5 Z" stroke="#000" stroke-width="1.6" fill="#fff"/>
<path d="M341.0,786.1 L372.1,794.7" stroke="#000" stroke-width="1.6" fill="none"/>
<path d="M341.0,786.1 L341.0,825.7" stroke="#000" stroke-width="1.6" fill="none"/>
<path d="M372.1,785.3 L372.1,821.1" stroke="#000" stroke-width="1.6" fill="none"/>
<path d="M372.1,785.3 L378.3,781.5 L381.4,779.1" stroke="#000" stroke-width="1.6" fill="none"/>
<path d="M397.0,811.8 L397.0,833.5" stroke="#000" stroke-width="1.6" fill="none"/>
<path d="M397.0,811.8 L417.9,819.5" stroke="#000" stroke-width="1.6" fill="none"/>
<path d="M418.7,793.9 L418.7,836.6" stroke="#000" stroke-width="1.6" fill="none"/>
<ellipse cx="422.6" cy="810.2" rx="3.9" ry="10.1" fill="#fff" stroke="#000" stroke-width="1.6"/>
<path d="M425.7,808.6 L459.1,823.4" stroke="#000" stroke-width="1.6" fill="none"/>
<path d="M417.9,840.5 L445.9,858.4" stroke="#000" stroke-width="1.6" fill="none"/>
<path d="M393.9,855.3 L417.9,831.9" stroke="#000" stroke-width="1.6" fill="none"/>
<path d="M400.1,848.3 L417.9,825.7" stroke="#000" stroke-width="1.6" fill="none"/>
<path d="M455.2,848.3 L470.0,856.8" stroke="#000" stroke-width="1.2" fill="none"/>
<ellipse cx="366.7" cy="866.9" rx="23.3" ry="11.7" fill="#fff" stroke="#000" stroke-width="1.6"/>
<path d="M338.7,861.5 L338.7,841.3 L342.6,831.9 L350.4,825.7 L365.9,822.6 L381.4,825.7 L389.2,831.9 L393.1,841.3 L392.3,861.5 L389.2,860.7 L365.9,854.5 L342.6,860.7 Z" stroke="#000" stroke-width="1.6" fill="url(#thr)"/>
<path d="M359.7,828.1 L376.0,828.1" stroke="#fff" stroke-width="1.3" fill="none"/>
<path d="M359.7,831.9 L376.0,831.9" stroke="#fff" stroke-width="1.3" fill="none"/>
<path d="M359.7,835.8 L376.0,835.8" stroke="#fff" stroke-width="1.3" fill="none"/>
<path d="M359.7,839.7 L376.0,839.7" stroke="#fff" stroke-width="1.3" fill="none"/>
<path d="M359.7,843.6 L376.0,843.6" stroke="#fff" stroke-width="1.3" fill="none"/>
<path d="M359.7,847.5 L376.0,847.5" stroke="#fff" stroke-width="1.3" fill="none"/>
<ellipse cx="366.3" cy="876.6" rx="14.4" ry="8.2" fill="#fff" stroke="#000" stroke-width="2.2"/>
<path d="M540.0,878.0 L554.5,883.4 L563.5,890.6 L567.1,903.3 L563.5,916.9 L554.5,926.8 L545.4,931.3 L536.4,930.4 L522.8,919.6 L518.3,918.7 L530.0,903.3 L536.4,896.1 L540.0,894.2 Z" stroke="#000" stroke-width="1.6" fill="url(#thr)"/>
<path d="M512.9,859.9 L527.3,860.8 L540.0,866.2 L540.0,894.2 L536.4,896.1 L530.0,903.3 L518.3,918.7 L495.7,916.9 L491.2,911.4 Z" stroke="#000" stroke-width="1.6" fill="#fff"/>
<path d="M529.1,860.8 L529.1,887.0 L540.0,894.2" stroke="#000" stroke-width="1.3" fill="none"/>
<path d="M511.1,912.3 L518.3,903.3 L529.1,887.0" stroke="#000" stroke-width="1.3" fill="none"/>
<path d="M497.5,851.8 L505.6,853.6 L518.3,860.8 L525.5,867.1 L527.3,885.2 L523.7,896.1 L516.5,908.7 L511.1,912.3 L493.0,911.4 L489.4,906.9 L478.5,896.1 L486.6,890.6 L495.7,878.0 L500.2,867.1 L500.2,858.1 Z" stroke="#000" stroke-width="1.6" fill="url(#thr)"/>
<ellipse cx="483.0" cy="871.6" rx="23.0" ry="13.8" fill="#fff" stroke="#000" stroke-width="1.7" transform="rotate(-57.0 483.0 871.6)"/>
<ellipse cx="475.6" cy="868.8" rx="13.5" ry="8.0" fill="#fff" stroke="#000" stroke-width="1.5" transform="rotate(-60.0 475.6 868.8)"/>
<path d="M474.0,866.2 L482.1,869.8" stroke="#000" stroke-width="1.2" fill="none"/>
<ellipse cx="614.1" cy="849.9" rx="16.3" ry="8.1" fill="#fff" stroke="#000" stroke-width="1.6"/>
<path d="M614.1,849.9 L614.1,872.5" stroke="#000" stroke-width="1.4" fill="none"/>
<ellipse cx="614.1" cy="890.2" rx="23.5" ry="16.5" fill="#fff" stroke="#000" stroke-width="1.7"/>
<ellipse cx="614.1" cy="887.0" rx="21.5" ry="13.5" fill="none" stroke="#000" stroke-width="1.2"/>
<ellipse cx="614.1" cy="891.5" rx="13.6" ry="8.1" fill="#fff" stroke="#000" stroke-width="1.6"/>
<ellipse cx="616.8" cy="890.6" rx="6.0" ry="4.0" fill="none" stroke="#000" stroke-width="1.2"/>
<path d="M603.3,892.4 L625.0,892.4" stroke="#000" stroke-width="1.2" fill="none"/>
<path d="M614.1,885.2 L614.1,898.8" stroke="#000" stroke-width="1.2" fill="none"/>
<path d="M360.2,1137.1 L368.9,1127.3 L375.4,1120.8 L386.2,1111.0 L399.2,1104.5 L405.8,1100.2 L418.8,1096.9 L427.5,1094.8 L436.1,1094.8 L442.6,1096.9 L450.2,1106.7 L450.2,1119.7 L442.6,1130.6 L438.3,1134.9 L442.6,1136.0 L467.6,1150.1 L469.8,1169.6 L465.4,1180.5 L455.7,1192.4 L440.5,1194.6 L430.7,1193.5 L410.1,1179.4 L378.6,1158.8 L377.5,1152.3 Z" stroke="#000" stroke-width="1.5" fill="#fff"/>
<path d="M368.9,1130.6 L386.2,1147.9 L379.7,1152.3 L378.6,1158.8" stroke="#000" stroke-width="1.3" fill="none"/>
<path d="M386.2,1147.9 L403.6,1137.1" stroke="#000" stroke-width="1.3" fill="none"/>
<path d="M410.1,1155.5 L423.1,1147.9 L438.3,1136.0" stroke="#000" stroke-width="1.3" fill="none"/>
<path d="M410.1,1155.5 L427.5,1167.5 L439.4,1159.9 L439.4,1137.1" stroke="#000" stroke-width="1.5" fill="none"/>
<path d="M439.4,1159.9 L467.6,1171.8" stroke="#000" stroke-width="1.3" fill="none"/>
<path d="M427.5,1167.5 L420.9,1177.2 L445.9,1193.5" stroke="#000" stroke-width="1.3" fill="none"/>
<path d="M371.0,1126.2 L403.6,1106.7" stroke="#000" stroke-width="1.3" fill="none"/>
<path d="M401.4,1106.7 L407.9,1101.3 L418.8,1096.9 L427.5,1095.8 L423.1,1106.7 L427.5,1117.5 L438.3,1126.2 L437.2,1133.8 L429.6,1138.2 L415.5,1137.1 L405.8,1131.7 L400.3,1120.8 Z" stroke="#000" stroke-width="1.6" fill="url(#thr)"/>
<path d="M427.5,1095.8 L436.1,1094.8 L442.6,1096.9 L450.2,1106.7 L450.2,1119.7 L442.6,1130.6 L438.3,1126.2 L427.5,1117.5 L423.1,1106.7 Z" stroke="#000" stroke-width="1.5" fill="#fff"/>
<ellipse cx="440.5" cy="1107.8" rx="8.5" ry="13.5" fill="#fff" stroke="#000" stroke-width="1.7" transform="rotate(-35.0 440.5 1107.8)"/>
<path d="M465.4,1180.5 L474.1,1184.8" stroke="#000" stroke-width="1.2" fill="none"/>
<path d="M549.0,1202.2 L562.0,1210.9 L573.9,1217.4 L575.0,1242.3 L567.4,1253.2 L556.6,1256.4 L545.7,1254.3 L531.6,1242.3 L544.6,1221.7 L549.0,1218.5 Z" stroke="#000" stroke-width="1.6" fill="url(#thr)"/>
<path d="M514.3,1184.8 L534.9,1184.8 L540.3,1189.2 L549.0,1193.5 L549.0,1218.5 L544.6,1221.7 L531.6,1242.3 L518.6,1244.5 L505.6,1242.3 L499.1,1236.9 L498.0,1225.0 L503.4,1226.0 L514.3,1227.1 L522.9,1221.7 L529.4,1213.0 L529.4,1200.0 L524.0,1189.2 Z" stroke="#000" stroke-width="1.5" fill="#fff"/>
<path d="M536.0,1185.9 L538.1,1215.2 L549.0,1218.5" stroke="#000" stroke-width="1.3" fill="none"/>
<path d="M518.6,1244.5 L538.1,1215.2" stroke="#000" stroke-width="1.3" fill="none"/>
<path d="M506.7,1185.9 L514.3,1184.8 L524.0,1189.2 L529.4,1200.0 L529.4,1213.0 L522.9,1221.7 L514.3,1227.1 L503.4,1226.0 L492.6,1218.5 L490.4,1214.1 L499.1,1210.9 L505.6,1204.3 L507.7,1189.2 Z" stroke="#000" stroke-width="1.6" fill="url(#thr)"/>
<path d="M481.7,1204.3 L483.9,1189.2 L491.5,1183.7 L502.3,1182.6 L507.7,1189.2 L505.6,1204.3 L499.1,1210.9 L489.3,1213.0 L482.8,1209.8 Z" stroke="#000" stroke-width="1.7" fill="#fff"/>
<path d="M483.9,1204.3 L496.9,1202.2 L499.1,1189.2" stroke="#000" stroke-width="1.3" fill="none"/>
<path d="M573.9,1243.4 L585.0,1252.1" stroke="#000" stroke-width="1.2" fill="none"/>
<path d="M994.7,742.8 L999.4,742.8 L1022.7,749.8 L1030.4,753.6 L1038.2,760.6 L1041.3,767.6 L1041.3,797.1 L1047.5,800.2 L1048.7,819.7 L1043.6,829.8 L999.4,830.5 L990.8,824.3 L990.8,804.9 L993.2,801.0 L991.6,790.9 L983.8,787.8 L972.2,783.2 L960.5,778.5 L952.0,774.6 L949.7,770.0 Z" stroke="#000" stroke-width="1.6" fill="#fff"/>
<path d="M994.7,764.5 L1014.9,767.6 L1016.5,768.4 L1016.5,788.6" stroke="#000" stroke-width="2.0" fill="none"/>
<path d="M993.2,788.6 L1014.9,770.7" stroke="#000" stroke-width="1.3" fill="none"/>
<path d="M1014.9,788.6 L1033.5,789.4 L1041.3,794.0" stroke="#000" stroke-width="1.5" fill="none"/>
<path d="M1041.3,767.6 L1041.3,797.1" stroke="#000" stroke-width="2.2" fill="none"/>
<path d="M1002.5,794.0 L1002.5,804.9" stroke="#000" stroke-width="1.5" fill="none"/>
<path d="M1032.0,794.0 L1032.0,803.3" stroke="#000" stroke-width="1.5" fill="none"/>
<path d="M990.8,804.9 L1002.5,794.0 L1032.0,794.0 L1047.5,800.2" stroke="#000" stroke-width="1.5" fill="none"/>
<path d="M968.3,742.0 L982.3,742.4 L991.6,743.5 L994.7,745.1 L994.7,764.5 L991.6,767.6 L990.0,781.6 L988.5,787.8 L983.8,785.5 L972.2,781.6 L960.5,778.5 L958.2,775.4 L964.4,758.3 L966.0,743.5 Z" stroke="#000" stroke-width="1.6" fill="url(#thr)"/>
<path d="M946.6,758.3 L951.2,744.3 L959.0,742.4 L968.3,742.0 L966.0,743.5 L964.4,758.3 L958.2,775.4 L952.0,774.6 L947.3,767.6 Z" stroke="#000" stroke-width="1.6" fill="#fff"/>
<ellipse cx="950.8" cy="758.3" rx="4.3" ry="15.9" fill="#fff" stroke="#000" stroke-width="1.6" transform="rotate(15.0 950.8 758.3)"/>
<path d="M960.5,743.5 L957.4,773.8" stroke="#000" stroke-width="1.2" fill="none"/>
<path d="M965.2,743.5 L961.3,775.4" stroke="#000" stroke-width="1.2" fill="none"/>
<ellipse cx="1019.6" cy="816.6" rx="25.6" ry="11.7" fill="#fff" stroke="#000" stroke-width="1.7"/>
<ellipse cx="1019.6" cy="817.3" rx="21.7" ry="9.3" fill="none" stroke="#000" stroke-width="1.4"/>
<path d="M999.4,820.4 L1040.5,820.4 L1040.5,843.7 L1036.7,850.0 L1026.6,854.6 L1012.6,854.6 L1003.3,850.0 L999.4,843.7 Z" stroke="#000" stroke-width="1.6" fill="url(#thr)"/>
<ellipse cx="1019.6" cy="816.2" rx="17.9" ry="5.4" fill="url(#thr)" stroke="#000" stroke-width="1.2"/>
<ellipse cx="1019.6" cy="846.1" rx="17.1" ry="8.5" fill="#fff" stroke="#000" stroke-width="1.8"/>
<ellipse cx="1018.8" cy="845.3" rx="10.1" ry="4.7" fill="#fff" stroke="#000" stroke-width="1.5"/>
<path d="M1018.8,841.4 L1018.8,851.5" stroke="#000" stroke-width="1.2" fill="none"/>
<path d="M969.6,903.6 L1019.1,876.8 L1095.3,919.4 L1095.3,1034.8 L1049.3,1060.2 L993.0,1031.3 L969.6,1020.3 Z" stroke="#000" stroke-width="1.5" fill="#fff"/>
<path d="M1019.1,876.8 L1019.1,990.8" stroke="#000" stroke-width="1.5" fill="none"/>
<path d="M969.6,1020.3 L1019.1,990.8 L1095.3,1034.8" stroke="#000" stroke-width="1.5" fill="none"/>
<path d="M1019.1,865.8 L1019.1,876.8" stroke="#000" stroke-width="1.3" fill="none"/>
<path d="M960.0,996.3 L969.6,992.2" stroke="#000" stroke-width="1.3" fill="none"/>
<path d="M993.7,1029.9 L995.7,1014.8 L1005.3,1008.0 L1019.1,1005.2 L1031.4,1006.6 L1041.0,1013.5 L1043.8,1027.2 L1049.3,1031.3 L1049.3,1060.2 L1045.2,1069.8 L1031.4,1078.0 L1006.7,1078.0 L993.0,1071.2 L990.2,1064.3 L990.2,1032.7 Z" stroke="#000" stroke-width="1.6" fill="#fff"/>
<path d="M998.5,1025.8 L1025.9,1021.0 L1049.3,1031.3" stroke="#000" stroke-width="1.6" fill="none"/>
<path d="M998.5,1025.8 L999.8,1051.9" stroke="#000" stroke-width="2.0" fill="none"/>
<path d="M1025.9,1021.0 L1025.9,1047.8" stroke="#000" stroke-width="2.0" fill="none"/>
<path d="M999.8,1051.9 L1025.9,1047.8 L1045.2,1060.2" stroke="#000" stroke-width="1.6" fill="none"/>
<ellipse cx="1019.1" cy="1067.0" rx="27.5" ry="13.5" fill="#fff" stroke="#000" stroke-width="1.7"/>
<ellipse cx="1080.2" cy="927.6" rx="6.9" ry="9.6" fill="#fff" stroke="#000" stroke-width="1.4" transform="rotate(-30.0 1080.2 927.6)"/>
<path d="M1076.8,932.4 L1095.3,919.4" stroke="#000" stroke-width="1.2" fill="none"/>
<path d="M1123.5,891.2 L1179.6,860.1 L1183.2,876.8 L1137.8,906.1 L1128.2,906.1 L1122.9,900.7 Z" stroke="#000" stroke-width="1.4" fill="#fff"/>
<path d="M1179.6,852.9 L1180.8,848.1 L1188.0,845.2 L1199.3,845.2 L1204.7,850.5 L1209.5,857.7 L1210.7,864.9 L1209.5,872.6 L1204.1,876.2 L1191.6,876.2 L1187.4,874.4 L1182.0,867.3 L1179.6,862.5 Z" stroke="#000" stroke-width="1.7" fill="#fff"/>
<path d="M1188.0,846.4 L1188.0,860.1 L1197.5,870.8 L1203.5,873.2" stroke="#000" stroke-width="1.6" fill="none"/>
<path d="M1182.0,867.3 L1188.0,860.1" stroke="#000" stroke-width="1.3" fill="none"/>
<ellipse cx="1107.9" cy="910.9" rx="13.5" ry="17.5" fill="#fff" stroke="#000" stroke-width="1.7" transform="rotate(-15.0 1107.9 910.9)"/>
<path d="M1095.4,899.5 L1095.4,912.7" stroke="#000" stroke-width="1.6" fill="none"/>
<path d="M1099.0,897.1 L1099.0,914.5" stroke="#000" stroke-width="1.3" fill="none"/>
<ellipse cx="1109.1" cy="910.3" rx="6.8" ry="10.5" fill="#fff" stroke="#000" stroke-width="2.6" transform="rotate(-10.0 1109.1 910.3)"/>
<path d="M1109.7,905.5 L1110.9,917.4" stroke="#000" stroke-width="2.0" fill="none"/>
<path d="M1135.7,1074.4 L1142.5,1079.8 L1165.5,1094.8 L1186.5,1094.8 L1199.4,1085.9 L1208.9,1081.2 L1189.9,1057.5 L1176.4,1042.5 L1156.0,1030.3 L1142.5,1027.0 Z" stroke="#000" stroke-width="1.5" fill="#fff"/>
<path d="M1161.5,1069.7 L1175.0,1077.8 L1191.3,1069.7" stroke="#000" stroke-width="1.6" fill="none"/>
<path d="M1176.4,1043.9 L1176.4,1079.2" stroke="#000" stroke-width="2.2" fill="none"/>
<path d="M1131.6,1078.5 L1153.3,1078.5 L1161.5,1069.7" stroke="#000" stroke-width="1.5" fill="none"/>
<path d="M1156.0,1054.8 L1162.8,1054.8 L1165.5,1058.8 L1162.8,1069.7" stroke="#000" stroke-width="1.3" fill="none"/>
<path d="M1169.6,1040.5 L1176.4,1046.6 L1189.9,1037.1" stroke="#000" stroke-width="1.4" fill="none"/>
<path d="M1101.8,1042.5 L1106.5,1030.3 L1112.0,1023.6 L1117.4,1020.8 L1128.9,1020.8 L1138.4,1023.6 L1149.2,1026.3 L1154.7,1030.3 L1156.0,1043.9 L1154.0,1054.1 L1145.9,1065.6 L1139.1,1072.4 L1128.9,1077.1 L1122.1,1076.5 L1115.3,1067.6 L1108.6,1057.5 L1102.5,1048.0 Z" stroke="#000" stroke-width="1.7" fill="#fff"/>
<path d="M1115.3,1022.2 L1130.3,1021.5 L1138.4,1024.2 L1143.8,1037.1 L1142.5,1054.1 L1135.7,1065.6 L1127.5,1071.7 L1120.8,1071.0 L1114.0,1063.6 L1106.5,1052.0 L1103.8,1043.9 L1108.6,1048.0 L1115.3,1048.0 L1122.1,1041.9 L1123.5,1032.4 L1120.8,1024.9 Z" stroke="#000" stroke-width="1.2" fill="url(#thr)"/>
<path d="M1142.5,1023.6 L1143.7,1025.3 L1145.6,1027.8 L1147.7,1030.8 L1149.5,1033.9 L1150.6,1037.1 L1151.0,1040.4 L1151.0,1044.0 L1150.6,1047.7 L1149.7,1051.3 L1148.6,1054.8 L1146.7,1058.2 L1144.1,1061.6 L1141.3,1064.9 L1138.8,1067.7 L1137.0,1069.7" stroke="#000" stroke-width="1.4" fill="none"/>
<path d="M1146.5,1024.9 L1147.6,1026.7 L1149.2,1029.3 L1150.9,1032.3 L1152.4,1035.5 L1153.3,1038.5 L1153.7,1041.4 L1153.8,1044.3 L1153.6,1047.3 L1153.0,1050.3 L1152.0,1053.4 L1150.2,1056.8 L1147.8,1060.6 L1145.1,1064.3 L1142.7,1067.4 L1141.1,1069.7" stroke="#000" stroke-width="1.4" fill="none"/>
<ellipse cx="1115.0" cy="1035.8" rx="8.5" ry="10.2" fill="#fff" stroke="#000" stroke-width="1.8" transform="rotate(-25.0 1115.0 1035.8)"/>
<ellipse cx="1114.7" cy="1036.1" rx="6.4" ry="7.8" fill="none" stroke="#000" stroke-width="1.2" transform="rotate(-25.0 1114.7 1036.1)"/>
<path d="M1107.2,1035.8 L1122.1,1038.5" stroke="#000" stroke-width="1.2" fill="none"/>
<path d="M1186.5,1050.7 L1189.9,1040.5 L1195.4,1035.8 L1203.5,1031.0 L1213.7,1029.7 L1223.8,1030.3 L1230.6,1033.7 L1236.0,1038.5 L1237.4,1047.3 L1234.0,1057.5 L1227.2,1065.6 L1217.1,1072.4 L1206.9,1074.4 L1196.7,1071.0 L1189.9,1064.2 Z" stroke="#000" stroke-width="1.7" fill="#fff"/>
<path d="M1186.5,1050.7 L1189.9,1040.5 L1195.4,1035.8 L1203.5,1031.0 L1210.3,1030.3 L1213.7,1041.2 L1219.8,1052.0 L1226.6,1061.5 L1222.5,1067.6 L1217.1,1072.4 L1206.9,1074.4 L1196.7,1071.0 L1189.9,1064.2 Z" stroke="#000" stroke-width="1.2" fill="url(#thr)"/>
<path d="M1214.3,1031.0 L1214.9,1032.6 L1215.6,1034.8 L1216.4,1037.3 L1217.4,1040.0 L1218.4,1042.5 L1219.6,1045.1 L1221.0,1047.8 L1222.5,1050.4 L1223.9,1052.8 L1225.2,1054.8 L1226.5,1056.2 L1227.7,1057.2 L1228.9,1057.9 L1229.9,1058.4 L1230.6,1058.8" stroke="#000" stroke-width="1.4" fill="none"/>
<path d="M1221.1,1033.1 L1223.8,1031.7 L1230.6,1033.7 L1235.4,1037.8 L1237.4,1043.9 L1235.4,1050.7 L1229.9,1052.7 L1223.8,1048.0 L1221.1,1040.5 Z" stroke="#000" stroke-width="2.0" fill="#fff"/>
<path d="M931.3,1103.3 L943.9,1108.4 L954.1,1118.5 L956.6,1136.2 L951.5,1148.9 L937.6,1155.2 L918.6,1153.9 L908.5,1147.6 L924.9,1136.2 L933.8,1118.5 Z" stroke="#000" stroke-width="1.6" fill="url(#thr)"/>
<path d="M951.5,1148.9 L956.6,1145.1 L957.8,1128.6 L954.1,1118.5" stroke="#000" stroke-width="1.3" fill="none"/>
<path d="M908.5,1086.8 L926.2,1088.1 L933.8,1095.7 L935.1,1118.5 L928.7,1131.1 L918.6,1145.1 L900.9,1145.1 L905.9,1138.7 L918.6,1122.3 L921.1,1097.0 Z" stroke="#000" stroke-width="1.5" fill="#fff"/>
<path d="M922.4,1089.4 L923.7,1115.9 L917.3,1128.6" stroke="#000" stroke-width="1.3" fill="none"/>
<path d="M923.7,1115.9 L935.1,1118.5" stroke="#000" stroke-width="1.3" fill="none"/>
<path d="M879.4,1074.2 L898.4,1081.8 L918.6,1088.1 L921.1,1097.0 L919.9,1118.5 L912.3,1132.4 L898.4,1141.3 L884.4,1140.0 L875.6,1128.6 L861.6,1121.0 L871.8,1121.0 L883.2,1110.9 L887.0,1093.2 L884.4,1078.0 Z" stroke="#000" stroke-width="1.6" fill="url(#thr)"/>
<ellipse cx="869.2" cy="1097.6" rx="14.5" ry="22.5" fill="#fff" stroke="#000" stroke-width="1.7" transform="rotate(28.0 869.2 1097.6)"/>
<ellipse cx="869.5" cy="1095.7" rx="6.5" ry="9.5" fill="#fff" stroke="#000" stroke-width="1.4" transform="rotate(28.0 869.5 1095.7)"/>
<path d="M864.2,1095.7 L874.3,1094.4" stroke="#000" stroke-width="1.1" fill="none"/>
<path d="M845.2,1078.0 L854.1,1085.6" stroke="#000" stroke-width="1.2" fill="none"/>
<path d="M1008.6,1139.0 L1042.8,1158.4 L1063.7,1170.0 L1075.4,1179.4 L1083.1,1193.3 L1090.1,1199.6 L1090.9,1208.1 L1080.8,1219.7 L1065.3,1230.6 L1063.7,1235.3 L1051.3,1238.4 L1035.0,1246.2 L1024.9,1241.5 L1009.4,1237.6 L986.1,1235.3 L983.7,1222.1 L984.5,1210.4 L966.6,1188.7 L965.1,1173.2 L967.4,1159.2 L974.4,1148.3 L983.0,1138.2 L990.7,1132.8 L1001.6,1135.1 Z" stroke="#000" stroke-width="1.5" fill="#fff"/>
<path d="M1008.6,1170.0 L1018.7,1175.5 L1038.1,1185.6" stroke="#000" stroke-width="1.4" fill="none"/>
<path d="M1043.5,1158.4 L1043.5,1171.6 L1038.9,1185.6 L1032.7,1201.1 L1015.6,1210.4 L1008.6,1212.0" stroke="#000" stroke-width="1.8" fill="none"/>
<path d="M1044.3,1173.2 L1081.6,1192.6" stroke="#000" stroke-width="1.4" fill="none"/>
<path d="M1032.7,1201.9 L1064.5,1219.0 L1064.5,1227.5" stroke="#000" stroke-width="1.4" fill="none"/>
<path d="M1065.3,1218.2 L1080.8,1199.6" stroke="#000" stroke-width="1.4" fill="none"/>
<path d="M986.1,1190.2 L1007.8,1204.2" stroke="#000" stroke-width="1.4" fill="none"/>
<path d="M1009.4,1212.8 L1028.8,1224.4 L1014.0,1232.2" stroke="#000" stroke-width="1.3" fill="none"/>
<path d="M955.0,1143.6 L966.6,1151.4" stroke="#000" stroke-width="1.3" fill="none"/>
<path d="M1090.9,1208.1 L1100.0,1209.7" stroke="#000" stroke-width="1.3" fill="none"/>
<path d="M965.1,1173.2 L967.4,1159.2 L974.4,1148.3 L983.0,1138.2 L990.7,1132.8 L1001.6,1135.1 L1008.6,1139.0 L1009.4,1168.5 L1001.6,1173.2 L991.5,1184.0 L986.1,1190.2 L976.7,1190.2 L966.6,1188.7 Z" stroke="#000" stroke-width="1.6" fill="url(#thr)"/>
<path d="M970.5,1187.1 L978.3,1188.7 L986.1,1185.6" stroke="#fff" stroke-width="1.0" fill="none"/>
<path d="M984.5,1210.4 L989.2,1204.2 L995.4,1203.4 L1004.7,1207.3 L1009.4,1212.0 L1010.9,1232.2 L1024.9,1241.5 L1018.7,1247.7 L1006.3,1249.3 L993.8,1243.8 L986.1,1235.3 L983.7,1222.1 Z" stroke="#000" stroke-width="1.6" fill="url(#thr)"/>
<path d="M918.1,1420.6 L926.8,1426.0 L933.3,1433.6 L934.4,1448.8 L929.0,1455.3 L915.9,1459.6 L907.3,1458.5 L898.6,1455.3 L911.6,1431.4 Z" stroke="#000" stroke-width="1.6" fill="url(#thr)"/>
<path d="M886.7,1397.8 L905.1,1397.8 L918.1,1406.5 L918.1,1420.6 L911.6,1431.4 L898.6,1455.3 L885.6,1455.3 L868.2,1449.9 L867.1,1442.3 L872.5,1444.4 L887.7,1446.6 L900.8,1435.8 L907.3,1427.1 L905.1,1407.5 Z" stroke="#000" stroke-width="1.5" fill="#fff"/>
<path d="M906.2,1401.0 L907.3,1427.1 L911.6,1431.4" stroke="#000" stroke-width="1.3" fill="none"/>
<path d="M865.0,1385.8 L872.5,1390.2 L885.6,1396.7 L900.8,1400.0 L905.1,1407.5 L907.3,1427.1 L900.8,1435.8 L887.7,1446.6 L872.5,1444.4 L868.2,1440.1 L856.3,1433.6 L844.3,1424.9 L853.0,1426.0 L861.7,1421.7 L869.3,1413.0 L871.5,1390.2 Z" stroke="#000" stroke-width="1.6" fill="url(#thr)"/>
<path d="M842.2,1413.0 L844.3,1402.1 L853.0,1391.3 L865.0,1385.8 L871.5,1390.2 L869.3,1413.0 L861.7,1421.7 L853.0,1426.0 L844.3,1423.8 Z" stroke="#000" stroke-width="1.7" fill="#fff"/>
<ellipse cx="856.3" cy="1406.5" rx="6.5" ry="9.5" fill="#fff" stroke="#000" stroke-width="1.4" transform="rotate(15.0 856.3 1406.5)"/>
<path d="M850.8,1407.5 L861.7,1406.5" stroke="#000" stroke-width="1.1" fill="none"/>
<path d="M934.4,1452.0 L944.2,1458.5" stroke="#000" stroke-width="1.2" fill="none"/>
<path d="M983.2,1458.5 L1000.6,1460.7 L1024.4,1470.5 L1035.3,1470.5 L1042.9,1483.5 L1058.1,1488.9 L1065.7,1498.7 L1066.8,1535.6 L1037.5,1537.7 L1008.2,1519.3 L988.6,1510.6 L966.9,1503.0 L965.9,1481.3 L974.5,1466.1 Z" stroke="#000" stroke-width="1.5" fill="#fff"/>
<path d="M1000.6,1461.8 L1001.7,1484.6 L988.6,1499.8" stroke="#000" stroke-width="1.4" fill="none"/>
<path d="M1001.7,1484.6 L1028.8,1497.6" stroke="#000" stroke-width="1.4" fill="none"/>
<path d="M1028.8,1474.8 L1029.9,1497.6 L1022.3,1512.8 L1009.3,1519.3" stroke="#000" stroke-width="1.8" fill="none"/>
<path d="M1029.9,1490.0 L1058.1,1504.1 L1059.2,1533.4" stroke="#000" stroke-width="1.4" fill="none"/>
<path d="M1023.4,1511.7 L1057.0,1532.3" stroke="#000" stroke-width="1.4" fill="none"/>
<path d="M1058.1,1504.1 L1066.8,1504.1" stroke="#000" stroke-width="1.4" fill="none"/>
<path d="M957.2,1465.1 L969.1,1472.6" stroke="#000" stroke-width="1.2" fill="none"/>
<path d="M1022.3,1469.4 L1031.0,1469.4 L1039.6,1475.9 L1041.8,1483.5 L1033.1,1479.2 Z" stroke="#000" stroke-width="1.2" fill="#111"/>
<ellipse cx="984.3" cy="1481.9" rx="16.5" ry="21.5" fill="url(#thr)" stroke="#000" stroke-width="1.6" transform="rotate(20.0 984.3 1481.9)"/>
<path d="M970.2,1482.4 L971.3,1499.8" stroke="#000" stroke-width="1.3" fill="none"/>
<g><g transform="translate(1145.5 -101)">
<ellipse cx="719.0" cy="900.2" rx="201.5" ry="126.5" fill="#fff" stroke="#000" stroke-width="1.6"/>
<path d="M529.7,901.8 L531.7,892.4 L534.9,883.2 L539.4,874.1 L545.0,865.3 L551.8,856.8 L559.7,848.7 L568.6,841.0 L578.6,833.7 L589.5,827.0 L601.2,820.8 L613.7,815.1 L627.0,810.2 L640.8,805.9 L655.2,802.2 L670.0,799.3 L685.2,797.1 L700.6,795.7 L716.1,795.1 L731.7,795.1 L747.2,796.0 L762.5,797.6 L777.6,800.0 L792.3,803.0 L806.6,806.8 L820.3,811.3 L833.4,816.5 L845.7,822.2 L857.3,828.5 L867.9,835.4 L877.6,842.8 L886.3,850.7 L894.0,858.9 L900.5,867.5 L905.8,876.3 L910.0,885.4 L912.9,894.7 L914.6,904.1 L915.0,913.5 L914.2,923.0 L912.1,932.3" stroke="#000" stroke-width="1.4" fill="none"/>
<path d="M718.8,832.5 L718.8,832.5 L724.2,832.6 L729.6,832.8 L735.1,833.1 L740.5,833.6 L745.8,834.2 L751.1,834.9 L756.4,835.8 L761.6,836.8 L766.8,837.9 L771.8,839.1 L776.8,840.5 L781.7,842.0 L786.5,843.6 L791.2,845.3 L795.8,847.2 L800.3,849.1 L804.6,851.2 L808.9,853.3 L812.9,855.6 L816.9,858.0 L820.6,860.4 L824.3,863.0 L827.7,865.6 L831.0,868.4 L834.1,871.2 L837.1,874.0 L839.8,877.0 L842.4,880.0 L844.8,883.1 L846.9,886.2 L848.9,889.4 L850.7,892.6 L852.3,895.9 L853.7,899.2 L854.8,902.5 L855.8,905.9 L856.5,909.3 L857.1,912.7 L857.4,916.1 L857.5,919.5 L857.5,952.0 L857.3,953.7 L856.9,950.4 L856.4,947.1 L855.6,943.9 L854.6,940.6 L853.5,937.4 L852.1,934.2 L850.5,931.0 L848.8,927.9 L846.9,924.9 L844.8,921.8 L842.5,918.9 L840.0,915.9 L837.3,913.1 L834.5,910.3 L831.5,907.6 L828.4,904.9 L825.1,902.4 L821.6,899.9 L818.0,897.5 L814.3,895.1 L810.4,892.9 L806.4,890.8 L802.2,888.7 L797.9,886.8 L793.6,885.0 L789.1,883.2 L784.5,881.6 L779.8,880.1 L775.0,878.7 L770.2,877.4 L765.2,876.3 L760.2,875.2 L755.2,874.3 L750.1,873.5 L744.9,872.8 L739.7,872.3 L734.5,871.8 L729.3,871.5 L724.0,871.3 L718.8,871.2 Z" stroke="#000" stroke-width="1.5" fill="#fff"/>
<path d="M857.5,919.5 L857.5,958.2" stroke="#000" stroke-width="1.5" fill="none"/>
<path d="M581.2,910.0 L717.5,832.5 L718.8,871.2 L700.0,882.5 L737.5,882.5 L743.8,890.0 L743.8,932.5 L755.0,950.0 L822.5,990.0 L836.2,990.0 L836.2,942.5 L845.0,945.0 L845.0,1178.0 L845.0,1347.5 L836.0,1347.5 L820.0,1345.0 L700.0,1277.5 L600.0,1335.0 L590.0,1340.0 L590.0,1010.0 L581.2,950.0 Z" stroke="#000" stroke-width="1.6" fill="#fff"/>
<path d="M717.5,832.5 L718.8,871.2" stroke="#000" stroke-width="1.6" fill="none"/>
<path d="M581.2,910.0 L717.5,832.5" stroke="#000" stroke-width="1.6" fill="none"/>
<path d="M581.2,950.0 L590.0,945.0 L700.0,885.0" stroke="#000" stroke-width="1.6" fill="none"/>
<path d="M582.5,955.0 L592.5,950.0 L700.0,890.0" stroke="#000" stroke-width="1.2" fill="none"/>
<path d="M700.0,881.0 L700.0,1277.5" stroke="#000" stroke-width="1.6" fill="none"/>
<path d="M737.5,883.0 L737.5,1277.5" stroke="#000" stroke-width="1.6" fill="none"/>
<path d="M700.0,885.0 L712.5,881.2 L737.5,882.5 L743.8,890.0 L743.8,932.5" stroke="#000" stroke-width="1.6" fill="none"/>
<path d="M836.2,942.5 L836.2,1347.5" stroke="#000" stroke-width="1.6" fill="none"/>
<path d="M845.0,945.0 L845.0,1347.5" stroke="#000" stroke-width="1.6" fill="none"/>
<path d="M590.0,945.0 L590.0,1340.0" stroke="#000" stroke-width="1.6" fill="none"/>
<path d="M598.8,942.0 L598.8,1335.0" stroke="#000" stroke-width="1.6" fill="none"/>
<path d="M581.2,950.0 L582.5,972.5 L590.0,1010.0" stroke="#000" stroke-width="1.3" fill="none"/>
<path d="M737.5,932.5 L755.0,950.0 L822.5,990.0 L836.2,990.0" stroke="#000" stroke-width="2.0" fill="none"/>
<path d="M775.0,952.5 L805.0,940.0 L835.0,938.8 L845.0,945.0" stroke="#000" stroke-width="1.6" fill="none"/>
<path d="M805.0,942.5 L805.0,985.0" stroke="#000" stroke-width="1.3" fill="none"/>
<path d="M775.0,952.5 L775.0,962.5" stroke="#000" stroke-width="1.3" fill="none"/>
<path d="M737.5,935.0 L755.0,952.5 L775.0,960.0" stroke="#000" stroke-width="1.3" fill="none"/>
<path d="M598.8,1110.0 L700.0,1051.2" stroke="#000" stroke-width="1.6" fill="none"/>
<path d="M598.8,1115.0 L700.0,1056.2" stroke="#000" stroke-width="1.2" fill="none"/>
<path d="M700.0,1051.2 L717.5,1047.5 L737.5,1051.2" stroke="#000" stroke-width="1.6" fill="none"/>
<path d="M737.5,1055.0 L845.0,1115.0" stroke="#000" stroke-width="1.6" fill="none"/>
<path d="M737.5,1060.0 L845.0,1120.0" stroke="#000" stroke-width="1.2" fill="none"/>
<path d="M598.8,1170.0 L700.0,1105.0" stroke="#000" stroke-width="1.6" fill="none"/>
<path d="M598.8,1175.0 L700.0,1110.0" stroke="#000" stroke-width="1.2" fill="none"/>
<path d="M700.0,1105.0 L717.5,1101.2 L737.5,1105.0" stroke="#000" stroke-width="1.6" fill="none"/>
<path d="M737.5,1107.5 L845.0,1172.5" stroke="#000" stroke-width="1.6" fill="none"/>
<path d="M737.5,1112.5 L845.0,1178.0" stroke="#000" stroke-width="1.2" fill="none"/>
</g></g>
<g><g transform="translate(1145.5 -101)">
<ellipse cx="635.0" cy="960.0" rx="14.5" ry="20.5" fill="#fff" stroke="#000" stroke-width="1.6" transform="rotate(25.0 635.0 960.0)"/>
<path d="M630.0,950.0 L645.0,960.0" stroke="#000" stroke-width="1.2" fill="none"/>
<path d="M612.5,945.0 L612.5,957.5" stroke="#000" stroke-width="1.2" fill="none"/>
<ellipse cx="632.0" cy="1278.8" rx="14.0" ry="20.0" fill="#fff" stroke="#000" stroke-width="1.6" transform="rotate(25.0 632.0 1278.8)"/>
<path d="M622.5,1270.0 L635.0,1278.8" stroke="#000" stroke-width="1.2" fill="none"/>
<ellipse cx="625.0" cy="1097.5" rx="13.0" ry="16.0" fill="#fff" stroke="#000" stroke-width="1.6" transform="rotate(25.0 625.0 1097.5)"/>
<ellipse cx="622.5" cy="1093.8" rx="5.0" ry="8.0" fill="none" stroke="#000" stroke-width="1.3" transform="rotate(25.0 622.5 1093.8)"/>
<path d="M632.5,1090.0 L650.0,1090.0 L660.0,1100.0 L658.8,1117.5 L645.0,1125.0 L635.0,1115.0 Z" stroke="#000" stroke-width="1.4" fill="#fff"/>
</g></g>
<g><g transform="translate(961.5 -206)">
<path d="M983.2,1458.5 L1000.6,1460.7 L1024.4,1470.5 L1035.3,1470.5 L1042.9,1483.5 L1058.1,1488.9 L1065.7,1498.7 L1066.8,1535.6 L1037.5,1537.7 L1008.2,1519.3 L988.6,1510.6 L966.9,1503.0 L965.9,1481.3 L974.5,1466.1 Z" stroke="#000" stroke-width="1.5" fill="#fff"/>
<path d="M1000.6,1461.8 L1001.7,1484.6 L988.6,1499.8" stroke="#000" stroke-width="1.4" fill="none"/>
<path d="M1001.7,1484.6 L1028.8,1497.6" stroke="#000" stroke-width="1.4" fill="none"/>
<path d="M1028.8,1474.8 L1029.9,1497.6 L1022.3,1512.8 L1009.3,1519.3" stroke="#000" stroke-width="1.8" fill="none"/>
<path d="M1029.9,1490.0 L1058.1,1504.1 L1059.2,1533.4" stroke="#000" stroke-width="1.4" fill="none"/>
<path d="M1023.4,1511.7 L1057.0,1532.3" stroke="#000" stroke-width="1.4" fill="none"/>
<path d="M1058.1,1504.1 L1066.8,1504.1" stroke="#000" stroke-width="1.4" fill="none"/>
<path d="M957.2,1465.1 L969.1,1472.6" stroke="#000" stroke-width="1.2" fill="none"/>
<path d="M1022.3,1469.4 L1031.0,1469.4 L1039.6,1475.9 L1041.8,1483.5 L1033.1,1479.2 Z" stroke="#000" stroke-width="1.2" fill="#fff"/>
<ellipse cx="984.3" cy="1481.9" rx="16.5" ry="21.5" fill="#fff" stroke="#000" stroke-width="1.6" transform="rotate(20.0 984.3 1481.9)"/>
<path d="M970.2,1482.4 L971.3,1499.8" stroke="#000" stroke-width="1.3" fill="none"/>
</g></g>
<g><g transform="translate(1145.5 -101)">
<path d="M600.0,1335.0 L700.0,1277.5" stroke="#000" stroke-width="1.6" fill="none"/>
<path d="M603.8,1340.0 L701.2,1282.5" stroke="#000" stroke-width="1.2" fill="none"/>
<path d="M737.5,1227.5 L750.0,1227.5 L832.5,1280.0 L835.0,1286.2 L835.0,1312.5 L806.2,1290.0 L775.0,1297.5 L745.0,1282.5 L737.5,1280.0 Z" stroke="#000" stroke-width="1.5" fill="#fff"/>
<path d="M745.0,1232.5 L832.5,1282.5" stroke="#000" stroke-width="1.2" fill="none"/>
<path d="M745.0,1232.5 L745.0,1282.5" stroke="#000" stroke-width="1.2" fill="none"/>
<path d="M802.5,1280.0 L805.0,1290.0 L835.0,1286.2" stroke="#000" stroke-width="1.3" fill="none"/>
<ellipse cx="767.5" cy="1269.5" rx="17.5" ry="13.5" fill="#fff" stroke="#000" stroke-width="1.6"/>
<path d="M750.0,1262.5 L757.5,1257.5 L777.5,1257.5 L785.0,1262.5" stroke="#000" stroke-width="1.2" fill="none"/>
<path d="M775.0,1297.5 L780.0,1290.0 L786.2,1297.5 L787.0,1350.0 L775.0,1350.0 Z" stroke="#000" stroke-width="1.4" fill="#fff"/>
<path d="M730.0,1320.0 L775.0,1350.0" stroke="#000" stroke-width="1.6" fill="none"/>
<path d="M732.5,1325.0 L775.0,1352.5" stroke="#000" stroke-width="1.2" fill="none"/>
<path d="M787.5,1350.0 L805.0,1337.5" stroke="#000" stroke-width="1.3" fill="none"/>
<path d="M805.0,1290.0 L805.0,1337.5" stroke="#000" stroke-width="1.3" fill="none"/>
<path d="M632.5,1375.0 L696.2,1413.8" stroke="#000" stroke-width="1.5" fill="none"/>
<path d="M743.8,1412.5 L806.2,1376.2" stroke="#000" stroke-width="1.5" fill="none"/>
<path d="M817.5,1382.5 L835.0,1392.5" stroke="#000" stroke-width="1.2" fill="none"/>
<ellipse cx="718.8" cy="1277.2" rx="23.7" ry="8.2" fill="#fff" stroke="#000" stroke-width="1.5"/>
<path d="M696.8,1281.6 L705.5,1272.8 L732.0,1272.8 L740.8,1281.6 L740.8,1305.8 L732.0,1315.7 L705.5,1315.7 L696.8,1305.8 Z" stroke="#000" stroke-width="1.7" fill="#fff"/>
<path d="M697.9,1276.1 L739.6,1276.1" stroke="#000" stroke-width="1.2" fill="none"/>
<path d="M718.8,1282.7 L718.8,1299.2" stroke="#000" stroke-width="1.3" fill="none"/>
<path d="M701.1,1299.2 L718.8,1298.1 L735.2,1303.6" stroke="#000" stroke-width="1.3" fill="none"/>
<ellipse cx="718.2" cy="1311.8" rx="11.6" ry="11.0" fill="url(#thr)" stroke="#000" stroke-width="1.5"/>
<ellipse cx="718.2" cy="1321.8" rx="7.2" ry="4.4" fill="#fff" stroke="#000" stroke-width="1.4"/>
<ellipse cx="618.8" cy="1340.2" rx="23.7" ry="8.2" fill="#fff" stroke="#000" stroke-width="1.5"/>
<path d="M596.8,1344.6 L605.5,1335.8 L632.0,1335.8 L640.8,1344.6 L640.8,1368.8 L632.0,1378.7 L605.5,1378.7 L596.8,1368.8 Z" stroke="#000" stroke-width="1.7" fill="#fff"/>
<path d="M597.9,1339.1 L639.6,1339.1" stroke="#000" stroke-width="1.2" fill="none"/>
<path d="M618.8,1345.7 L618.8,1362.2" stroke="#000" stroke-width="1.3" fill="none"/>
<path d="M601.1,1362.2 L618.8,1361.1 L635.2,1366.6" stroke="#000" stroke-width="1.3" fill="none"/>
<ellipse cx="618.2" cy="1374.8" rx="11.6" ry="11.0" fill="url(#thr)" stroke="#000" stroke-width="1.5"/>
<ellipse cx="618.2" cy="1384.8" rx="7.2" ry="4.4" fill="#fff" stroke="#000" stroke-width="1.4"/>
<ellipse cx="820.0" cy="1337.7" rx="23.7" ry="8.2" fill="#fff" stroke="#000" stroke-width="1.5"/>
<path d="M798.0,1342.1 L806.8,1333.3 L833.2,1333.3 L842.0,1342.1 L842.0,1366.3 L833.2,1376.2 L806.8,1376.2 L798.0,1366.3 Z" stroke="#000" stroke-width="1.7" fill="#fff"/>
<path d="M799.1,1336.6 L840.9,1336.6" stroke="#000" stroke-width="1.2" fill="none"/>
<path d="M820.0,1343.2 L820.0,1359.7" stroke="#000" stroke-width="1.3" fill="none"/>
<path d="M802.4,1359.7 L820.0,1358.6 L836.5,1364.1" stroke="#000" stroke-width="1.3" fill="none"/>
<ellipse cx="819.5" cy="1372.3" rx="11.6" ry="11.0" fill="url(#thr)" stroke="#000" stroke-width="1.5"/>
<ellipse cx="819.5" cy="1382.2" rx="7.2" ry="4.4" fill="#fff" stroke="#000" stroke-width="1.4"/>
<ellipse cx="718.8" cy="1398.2" rx="23.7" ry="8.2" fill="#fff" stroke="#000" stroke-width="1.5"/>
<path d="M696.8,1402.6 L705.5,1393.8 L732.0,1393.8 L740.8,1402.6 L740.8,1426.8 L732.0,1436.7 L705.5,1436.7 L696.8,1426.8 Z" stroke="#000" stroke-width="1.7" fill="#fff"/>
<path d="M697.9,1397.1 L739.6,1397.1" stroke="#000" stroke-width="1.2" fill="none"/>
<path d="M718.8,1403.7 L718.8,1420.2" stroke="#000" stroke-width="1.3" fill="none"/>
<path d="M701.1,1420.2 L718.8,1419.1 L735.2,1424.6" stroke="#000" stroke-width="1.3" fill="none"/>
<ellipse cx="718.2" cy="1432.8" rx="11.6" ry="11.0" fill="url(#thr)" stroke="#000" stroke-width="1.5"/>
<ellipse cx="718.2" cy="1442.8" rx="7.2" ry="4.4" fill="#fff" stroke="#000" stroke-width="1.4"/>
</g></g>
<g><g transform="translate(810 17)">
<path d="M1285.7,683.5 L1287.6,673.0 L1294.3,661.5 L1301.0,653.9 L1309.6,646.7 L1320.1,642.4 L1327.8,644.3 L1335.4,648.2 L1345.0,651.5 L1352.6,654.8 L1360.3,654.4 L1367.9,653.9 L1372.7,657.7 L1381.3,660.6 L1386.1,664.4 L1394.7,667.3 L1407.1,668.2 L1417.6,674.9 L1428.1,681.6 L1442.5,689.3 L1456.8,693.1 L1459.7,706.5 L1460.2,723.7 L1455.9,736.1 L1450.1,747.6 L1436.7,765.7 L1427.2,776.2 L1394.7,775.3 L1366.0,760.9 L1346.9,750.4 L1336.4,741.8 L1327.8,735.1 L1316.3,725.6 L1299.1,714.1 L1289.6,704.5 Z" stroke="#000" stroke-width="2.6" fill="#fff"/>
<path d="M1321.1,644.3 L1335.4,648.2 L1352.6,654.8 L1367.9,653.9 L1374.6,666.3 L1373.7,679.7 L1368.9,696.9 L1364.1,714.1 L1359.3,721.8 L1339.3,731.3 L1333.5,737.0 L1327.8,735.1 L1316.3,725.6 L1299.1,714.1 L1296.2,706.5 L1306.8,702.6 L1316.3,695.0 L1322.1,682.6 L1324.0,666.3 L1323.0,653.9 Z" stroke="#000" stroke-width="1.5" fill="#fff"/>
<path d="M1329.7,652.0 L1325.9,725.6" stroke="#fff" stroke-width="1.0" fill="none"/>
<path d="M1336.4,652.9 L1332.6,724.6" stroke="#fff" stroke-width="1.0" fill="none"/>
<path d="M1343.1,653.9 L1339.3,723.7" stroke="#fff" stroke-width="1.0" fill="none"/>
<path d="M1349.8,654.8 L1345.9,722.7" stroke="#fff" stroke-width="1.0" fill="none"/>
<path d="M1356.5,655.8 L1352.6,721.8" stroke="#fff" stroke-width="1.0" fill="none"/>
<path d="M1363.2,656.8 L1359.3,720.8" stroke="#fff" stroke-width="1.0" fill="none"/>
<ellipse cx="1305.8" cy="675.9" rx="33.0" ry="16.5" fill="#fff" stroke="#000" stroke-width="2.4" transform="rotate(-62.0 1305.8 675.9)"/>
<ellipse cx="1307.2" cy="676.8" rx="25.5" ry="12.5" fill="#fff" stroke="#000" stroke-width="2.2" transform="rotate(-62.0 1307.2 676.8)"/>
<path d="M1375.6,677.8 L1394.7,685.4 L1397.6,710.3" stroke="#000" stroke-width="2.2" fill="none"/>
<path d="M1366.0,719.8 L1381.3,726.5 L1358.4,747.6" stroke="#000" stroke-width="2.2" fill="none"/>
<path d="M1375.6,677.8 L1371.8,687.3 L1366.0,719.8" stroke="#000" stroke-width="2.0" fill="none"/>
<path d="M1401.4,670.1 L1401.4,710.3 L1429.1,723.7 L1452.0,735.1" stroke="#000" stroke-width="2.4" fill="none"/>
<path d="M1401.4,710.3 L1375.6,748.5 L1418.6,773.4" stroke="#000" stroke-width="2.4" fill="none"/>
<path d="M1397.6,710.3 L1381.3,726.5" stroke="#000" stroke-width="2.0" fill="none"/>
</g></g>
<g><g transform="translate(907 64)">
<path d="M1030.4,471.7 L1041.2,486.8 L1107.3,516.1 L1157.5,538.7 L1164.7,546.1 L1175.5,554.7 L1204.5,564.4 L1231.4,578.4 L1250.8,579.5 L1258.3,584.8 L1269.0,587.0 L1277.6,603.1 L1277.6,637.5 L1269.0,659.0 L1247.5,685.9 L1226.0,697.7 L1209.9,697.7 L1199.1,690.2 L1188.4,682.7 L1172.3,673.0 L1152.9,679.5 L1140.0,682.7 L1073.9,690.9 L1030.4,700.9 L1000.3,690.9 L980.2,672.5 L969.3,642.4 L969.3,608.9 L975.2,595.5 L980.2,582.2 L968.5,578.8 L950.1,567.1 L944.7,543.7 L950.1,508.5 L971.8,476.8 L1003.6,462.5 Z" stroke="#000" stroke-width="1.6" fill="#fff"/>
<path d="M1164.7,556.9 L1180.9,581.6 L1187.3,605.3 L1187.3,637.5 L1180.9,653.7 L1170.1,671.9" stroke="#000" stroke-width="1.4" fill="none"/>
<path d="M1179.8,560.1 L1198.1,585.9 L1201.3,605.3 L1201.3,626.8 L1197.0,646.1 L1172.3,673.0" stroke="#000" stroke-width="1.4" fill="none"/>
<path d="M1186.2,560.1 L1204.5,575.2 L1209.9,594.5 L1216.3,626.8 L1211.0,653.7 L1188.4,673.0" stroke="#000" stroke-width="1.4" fill="none"/>
<path d="M1232.5,578.4 L1250.8,579.5 L1254.0,599.9 L1252.9,626.8 L1236.8,659.0 L1208.8,683.8" stroke="#000" stroke-width="1.4" fill="none"/>
<path d="M1243.2,580.5 L1256.1,590.2 L1258.3,605.3 L1257.2,626.8 L1242.2,662.3 L1211.0,687.0" stroke="#000" stroke-width="1.4" fill="none"/>
<path d="M1251.8,579.5 L1262.6,599.9 L1262.6,626.8 L1245.4,664.4 L1213.1,690.2" stroke="#000" stroke-width="1.4" fill="none"/>
<path d="M1270.1,659.0 L1287.3,667.6" stroke="#000" stroke-width="1.4" fill="none"/>
<path d="M1198.1,594.5 L1209.9,594.5" stroke="#000" stroke-width="1.4" fill="none"/>
<path d="M1172.3,673.0 L1188.4,682.7 L1206.7,683.8" stroke="#000" stroke-width="1.4" fill="none"/>
<path d="M1012.0,549.5 L1055.5,552.0 L1177.6,558.7" stroke="#000" stroke-width="1.4" fill="none"/>
<path d="M1023.7,560.4 L1063.8,563.8 L1164.2,560.4" stroke="#000" stroke-width="1.4" fill="none"/>
<path d="M1012.0,549.5 L1023.7,547.0 L1053.8,550.4 L1055.5,558.7 L1023.7,562.1 L1015.3,557.1 Z" stroke="#000" stroke-width="1.4" fill="#fff"/>
<path d="M1023.7,547.0 L1028.7,560.4" stroke="#000" stroke-width="1.4" fill="none"/>
<ellipse cx="1032.9" cy="629.8" rx="65.2" ry="71.6" fill="#fff" stroke="#000" stroke-width="1.5"/>
<ellipse cx="1030.4" cy="629.8" rx="48.5" ry="65.2" fill="none" stroke="#000" stroke-width="1.5"/>
<ellipse cx="1027.9" cy="629.8" rx="42.7" ry="61.9" fill="none" stroke="#000" stroke-width="1.5"/>
<path d="M971.8,608.9 L980.2,592.2 L1008.6,577.1 L1057.1,607.2 L1058.0,662.4 L1030.4,680.8 L1000.3,690.9 L980.2,672.5 L970.1,642.4 Z" stroke="#000" stroke-width="1.5" fill="#fff"/>
<path d="M1040.4,662.4 L1058.0,662.4" stroke="#000" stroke-width="1.4" fill="none"/>
<path d="M1042.1,610.6 L1057.1,607.2" stroke="#000" stroke-width="1.4" fill="none"/>
<ellipse cx="1005.3" cy="634.0" rx="36.0" ry="48.5" fill="#fff" stroke="#000" stroke-width="1.7"/>
<ellipse cx="993.2" cy="520.6" rx="63.6" ry="42.7" fill="#fff" stroke="#000" stroke-width="1.7" transform="rotate(-62.0 993.2 520.6)"/>
<ellipse cx="993.2" cy="520.6" rx="59.5" ry="39.0" fill="none" stroke="#000" stroke-width="1.3" transform="rotate(-62.0 993.2 520.6)"/>
<ellipse cx="983.2" cy="518.9" rx="42.0" ry="22.5" fill="#fff" stroke="#000" stroke-width="1.6" transform="rotate(-62.0 983.2 518.9)"/>
<ellipse cx="983.2" cy="518.9" rx="37.0" ry="18.5" fill="none" stroke="#000" stroke-width="1.2" transform="rotate(-62.0 983.2 518.9)"/>
<path d="M988.5,520.3 L1000.3,525.3" stroke="#000" stroke-width="1.2" fill="none"/>
<path d="M970.1,578.8 L976.8,595.5" stroke="#000" stroke-width="1.4" fill="none"/>
<path d="M1012.0,563.8 L1008.6,577.1" stroke="#000" stroke-width="1.4" fill="none"/>
</g></g>
<clipPath id="c11"><path clip-rule="evenodd" d="M0,0 H2450 V1854 H0 Z M1930.1,528.4 L1933.8,530.8 L1937.2,533.8 L1940.2,537.4 L1942.8,541.5 L1944.9,546.0 L1946.5,551.0 L1947.6,556.3 L1948.2,561.9 L1948.3,567.8 L1947.8,573.9 L1946.8,580.1 L1945.3,586.3 L1943.3,592.5 L1940.8,598.7 L1937.9,604.6 L1934.6,610.4 L1930.9,615.9 L1926.8,621.0 L1922.5,625.8 L1917.9,630.0 L1913.2,633.8 L1908.2,637.1 L1903.2,639.7 L1898.2,641.8 L1893.2,643.3 L1888.3,644.1 L1883.5,644.2 L1878.8,643.7 L1874.4,642.5 L1870.3,640.8 L1866.6,638.4 L1863.2,635.4 L1860.2,631.8 L1857.6,627.7 L1855.5,623.2 L1853.9,618.2 L1852.8,612.9 L1852.2,607.3 L1852.1,601.4 L1852.6,595.3 L1853.6,589.1 L1855.1,582.9 L1857.1,576.7 L1859.6,570.5 L1862.5,564.6 L1865.8,558.8 L1869.5,553.3 L1873.6,548.2 L1877.9,543.4 L1882.5,539.2 L1887.2,535.4 L1892.2,532.1 L1897.2,529.5 L1902.2,527.4 L1907.2,525.9 L1912.1,525.1 L1916.9,525.0 L1921.6,525.5 L1926.0,526.7 L1930.1,528.4 Z M1909.4,545.5 L1911.4,546.8 L1913.1,548.5 L1914.6,550.6 L1915.8,553.0 L1916.7,555.8 L1917.3,558.8 L1917.6,562.1 L1917.7,565.6 L1917.4,569.3 L1916.8,573.2 L1915.9,577.2 L1914.7,581.2 L1913.2,585.2 L1911.5,589.2 L1909.6,593.2 L1907.4,597.0 L1905.0,600.6 L1902.5,604.1 L1899.8,607.3 L1897.0,610.3 L1894.2,612.9 L1891.3,615.3 L1888.3,617.2 L1885.4,618.8 L1882.6,620.0 L1879.8,620.8 L1877.1,621.1 L1874.5,621.1 L1872.2,620.6 L1870.0,619.7 L1868.0,618.4 L1866.3,616.7 L1864.8,614.6 L1863.6,612.2 L1862.7,609.4 L1862.1,606.4 L1861.8,603.1 L1861.7,599.6 L1862.0,595.9 L1862.6,592.0 L1863.5,588.0 L1864.7,584.0 L1866.2,580.0 L1867.9,576.0 L1869.8,572.0 L1872.0,568.2 L1874.4,564.6 L1876.9,561.1 L1879.6,557.9 L1882.4,554.9 L1885.2,552.3 L1888.1,549.9 L1891.1,548.0 L1894.0,546.4 L1896.8,545.2 L1899.6,544.4 L1902.3,544.1 L1904.9,544.1 L1907.2,544.6 L1909.4,545.5 Z"/></clipPath>
<g clip-path="url(#c11)"><g transform="translate(996 108)">
<path d="M899.8,436.1 L908.1,440.9 L921.8,447.1 L935.6,454.7 L941.7,463.6 L941.7,478.7 L939.0,489.0 L933.5,499.3 L921.8,513.1 L908.1,517.9 L897.8,517.2 L884.0,511.7 L873.7,504.8 L866.8,503.5 L884.0,485.6 L890.9,471.8 L899.8,451.2 Z" stroke="#000" stroke-width="1.6" fill="url(#thr)"/>
<path d="M853.1,423.7 L860.0,418.2 L866.8,414.8 L875.1,414.8 L890.9,423.7 L899.8,437.5 L899.8,451.2 L890.9,471.8 L884.0,485.6 L866.8,503.5 L857.9,506.9 L843.5,500.0 L836.6,492.5 L827.0,475.3 L838.0,478.0 L847.6,477.3 L860.0,469.8 L866.8,459.5 L869.6,448.5 L868.2,437.5 L861.3,429.2 Z" stroke="#000" stroke-width="1.6" fill="#fff"/>
<path d="M875.1,414.8 L873.7,420.3 L880.6,430.6 L884.7,437.5 L880.6,448.5 L873.7,465.0 L873.7,480.1 L866.8,480.1" stroke="#000" stroke-width="1.6" fill="none"/>
<path d="M885.4,436.1 L899.8,442.3" stroke="#000" stroke-width="1.6" fill="none"/>
<path d="M873.7,480.1 L884.0,485.6" stroke="#000" stroke-width="1.6" fill="none"/>
<path d="M843.5,500.0 L846.2,494.5 L860.0,485.6 L873.7,480.1" stroke="#000" stroke-width="1.6" fill="none"/>
<path d="M842.1,421.7 L852.4,423.1 L861.3,429.2 L868.2,437.5 L869.6,448.5 L866.8,459.5 L860.0,469.8 L847.6,477.3 L839.4,478.7 L832.5,476.0 L827.7,471.8 L818.7,465.0 L825.6,463.6 L834.5,458.1 L842.1,448.5 L843.5,437.5 Z" stroke="#000" stroke-width="1.6" fill="url(#thr)"/>
<path d="M810.8,432.7 L818.7,424.4 L827.7,422.4 L842.1,422.4 L843.5,437.5 L835.2,454.7 L825.6,463.6 L817.4,463.6 L810.8,454.7 Z" stroke="#000" stroke-width="1.6" fill="#fff"/>
<path d="M810.8,432.7 L818.7,424.4 L827.7,423.1 L828.4,443.7 L818.7,451.2 L811.2,454.0 Z" stroke="#000" stroke-width="1.6" fill="#fff"/>
<path d="M811.9,436.1 L818.7,438.9 L825.6,440.2" stroke="#000" stroke-width="1.6" fill="none"/>
<path d="M906.7,448.5 L906.7,471.8" stroke="#fff" stroke-width="1.0" fill="none"/>
<path d="M913.6,449.9 L913.6,471.8" stroke="#fff" stroke-width="1.0" fill="none"/>
<path d="M920.4,451.2 L920.4,471.8" stroke="#fff" stroke-width="1.0" fill="none"/>
<path d="M927.3,452.6 L927.3,471.8" stroke="#fff" stroke-width="1.0" fill="none"/>
<path d="M934.2,454.0 L934.2,471.8" stroke="#fff" stroke-width="1.0" fill="none"/>
</g></g>
<g><g transform="translate(1078 146)">
<path d="M663.2,418.9 L663.2,373.8 L667.1,356.7 L671.0,347.4 L675.6,344.3 L684.2,344.3 L691.9,348.2 L702.8,348.6 L709.0,350.5 L716.8,351.7 L722.2,354.4 L738.5,364.5 L746.3,365.3 L766.5,373.8 L777.4,378.5 L786.7,387.8 L788.3,395.6 L786.7,412.7 L782.8,419.7 L774.3,430.5 L768.8,437.5 L754.9,444.5 L743.2,439.1 L722.2,428.2 L717.6,432.1 L717.6,438.3 L710.6,446.8 L694.3,450.0 L676.4,447.6 L671.0,439.9 L667.9,426.7 L666.3,418.9 Z" stroke="#000" stroke-width="1.6" fill="#fff"/>
<path d="M668.6,357.5 L699.7,366.1" stroke="#000" stroke-width="1.6" fill="none"/>
<path d="M668.6,357.5 L668.6,397.1" stroke="#000" stroke-width="1.6" fill="none"/>
<path d="M699.7,356.7 L699.7,392.5" stroke="#000" stroke-width="1.6" fill="none"/>
<path d="M699.7,356.7 L705.9,352.9 L709.0,350.5" stroke="#000" stroke-width="1.6" fill="none"/>
<path d="M724.6,383.2 L724.6,404.9" stroke="#000" stroke-width="1.6" fill="none"/>
<path d="M724.6,383.2 L745.5,390.9" stroke="#000" stroke-width="1.6" fill="none"/>
<path d="M746.3,365.3 L746.3,408.0" stroke="#000" stroke-width="1.6" fill="none"/>
<ellipse cx="750.2" cy="381.6" rx="3.9" ry="10.1" fill="#fff" stroke="#000" stroke-width="1.6"/>
<path d="M753.3,380.0 L786.7,394.8" stroke="#000" stroke-width="1.6" fill="none"/>
<path d="M745.5,411.9 L773.5,429.8" stroke="#000" stroke-width="1.6" fill="none"/>
<path d="M721.5,426.7 L745.5,403.3" stroke="#000" stroke-width="1.6" fill="none"/>
<path d="M727.7,419.7 L745.5,397.1" stroke="#000" stroke-width="1.6" fill="none"/>
<path d="M782.8,419.7 L797.6,428.2" stroke="#000" stroke-width="1.2" fill="none"/>
<ellipse cx="694.3" cy="438.3" rx="23.3" ry="11.7" fill="#fff" stroke="#000" stroke-width="1.6"/>
<path d="M666.3,432.9 L666.3,412.7 L670.2,403.3 L678.0,397.1 L693.5,394.0 L709.0,397.1 L716.8,403.3 L720.7,412.7 L719.9,432.9 L716.8,432.1 L693.5,425.9 L670.2,432.1 Z" stroke="#000" stroke-width="1.6" fill="url(#thr)"/>
<path d="M687.3,399.5 L703.6,399.5" stroke="#fff" stroke-width="1.3" fill="none"/>
<path d="M687.3,403.3 L703.6,403.3" stroke="#fff" stroke-width="1.3" fill="none"/>
<path d="M687.3,407.2 L703.6,407.2" stroke="#fff" stroke-width="1.3" fill="none"/>
<path d="M687.3,411.1 L703.6,411.1" stroke="#fff" stroke-width="1.3" fill="none"/>
<path d="M687.3,415.0 L703.6,415.0" stroke="#fff" stroke-width="1.3" fill="none"/>
<path d="M687.3,418.9 L703.6,418.9" stroke="#fff" stroke-width="1.3" fill="none"/>
<ellipse cx="693.9" cy="448.0" rx="14.4" ry="8.2" fill="#fff" stroke="#000" stroke-width="2.2"/>
</g></g>
<path d="M1737.4,574.9 L1737.4,617.3 L1749.8,629.8 L1790.0,629.8 L1803.5,621.1 L1806.0,606.1 L1806.0,553.6 L1776.0,538.7 L1746.1,547.4 L1740.0,560.0 Z" stroke="#000" stroke-width="1.5" fill="#fff"/>
<path d="M1746.1,555.0 L1746.1,596.0" stroke="#000" stroke-width="1.4" fill="none"/>
<path d="M1781.0,555.0 L1781.0,592.0" stroke="#000" stroke-width="1.4" fill="none"/>
<path d="M1806.0,553.0 L1806.0,606.0" stroke="#000" stroke-width="1.4" fill="none"/>
<path d="M1746.1,547.4 L1776.0,538.7 L1804.8,553.6" stroke="#000" stroke-width="1.4" fill="none"/>
<path d="M1745.5,561.0 L1746.9,558.5 L1749.0,554.9 L1751.6,551.2 L1754.8,548.5 L1758.9,546.9 L1763.7,545.9 L1768.8,545.4 L1773.6,545.5 L1778.4,546.3 L1783.2,547.7 L1787.6,549.4 L1791.0,551.0 L1793.1,552.6 L1794.3,554.3 L1795.0,555.9 L1795.5,557.0" stroke="#0c0c0c" stroke-width="4.5" fill="none"/>
<path d="M1746.1,596.1 L1781.0,592.3 L1806.0,606.1" stroke="#000" stroke-width="1.4" fill="none"/>
<path d="M1739.8,617.3 L1741.4,615.1 L1743.6,611.9 L1746.4,608.6 L1749.8,606.1 L1753.9,604.5 L1758.7,603.3 L1763.7,602.6 L1768.6,602.3 L1773.4,602.4 L1778.2,602.8 L1782.9,603.7 L1787.3,604.8 L1791.6,606.3 L1795.9,608.2 L1799.6,610.2 L1802.3,612.3 L1803.9,614.4 L1804.5,616.5 L1804.4,618.8 L1803.5,621.1 L1801.3,623.7 L1798.0,626.6 L1794.6,629.2 L1792.3,631.0" stroke="#000" stroke-width="1.4" fill="none"/>
<path d="M1752.3,629.8 L1753.3,628.1 L1754.6,625.6 L1756.4,623.0 L1758.6,621.1 L1761.5,619.9 L1765.0,619.1 L1768.7,618.6 L1772.3,618.6 L1776.0,619.0 L1779.8,619.8 L1783.3,621.0 L1786.0,622.3 L1787.7,624.1 L1788.8,626.3 L1789.3,628.4 L1789.8,629.8" stroke="#000" stroke-width="1.8" fill="none"/>
<path d="M1778.0,842.0 L1790.0,850.0 L1795.0,866.0 L1788.0,880.0 L1776.0,886.0 L1782.0,872.0 L1784.0,858.0 Z" stroke="#000" stroke-width="1.2" fill="#0c0c0c"/>
<g><g transform="translate(981 427)">
<path d="M663.2,418.9 L663.2,373.8 L667.1,356.7 L671.0,347.4 L675.6,344.3 L684.2,344.3 L691.9,348.2 L702.8,348.6 L709.0,350.5 L716.8,351.7 L722.2,354.4 L738.5,364.5 L746.3,365.3 L766.5,373.8 L777.4,378.5 L786.7,387.8 L788.3,395.6 L786.7,412.7 L782.8,419.7 L774.3,430.5 L768.8,437.5 L754.9,444.5 L743.2,439.1 L722.2,428.2 L717.6,432.1 L717.6,438.3 L710.6,446.8 L694.3,450.0 L676.4,447.6 L671.0,439.9 L667.9,426.7 L666.3,418.9 Z" stroke="#000" stroke-width="1.6" fill="#fff"/>
<path d="M668.6,357.5 L699.7,366.1" stroke="#000" stroke-width="1.6" fill="none"/>
<path d="M668.6,357.5 L668.6,397.1" stroke="#000" stroke-width="1.6" fill="none"/>
<path d="M699.7,356.7 L699.7,392.5" stroke="#000" stroke-width="1.6" fill="none"/>
<path d="M699.7,356.7 L705.9,352.9 L709.0,350.5" stroke="#000" stroke-width="1.6" fill="none"/>
<path d="M724.6,383.2 L724.6,404.9" stroke="#000" stroke-width="1.6" fill="none"/>
<path d="M724.6,383.2 L745.5,390.9" stroke="#000" stroke-width="1.6" fill="none"/>
<path d="M746.3,365.3 L746.3,408.0" stroke="#000" stroke-width="1.6" fill="none"/>
<ellipse cx="750.2" cy="381.6" rx="3.9" ry="10.1" fill="#fff" stroke="#000" stroke-width="1.6"/>
<path d="M753.3,380.0 L786.7,394.8" stroke="#000" stroke-width="1.6" fill="none"/>
<path d="M745.5,411.9 L773.5,429.8" stroke="#000" stroke-width="1.6" fill="none"/>
<path d="M721.5,426.7 L745.5,403.3" stroke="#000" stroke-width="1.6" fill="none"/>
<path d="M727.7,419.7 L745.5,397.1" stroke="#000" stroke-width="1.6" fill="none"/>
<path d="M782.8,419.7 L797.6,428.2" stroke="#000" stroke-width="1.2" fill="none"/>
<ellipse cx="694.3" cy="438.3" rx="23.3" ry="11.7" fill="#fff" stroke="#000" stroke-width="1.6"/>
<path d="M666.3,432.9 L666.3,412.7 L670.2,403.3 L678.0,397.1 L693.5,394.0 L709.0,397.1 L716.8,403.3 L720.7,412.7 L719.9,432.9 L716.8,432.1 L693.5,425.9 L670.2,432.1 Z" stroke="#000" stroke-width="1.6" fill="url(#thr)"/>
<path d="M687.3,399.5 L703.6,399.5" stroke="#fff" stroke-width="1.3" fill="none"/>
<path d="M687.3,403.3 L703.6,403.3" stroke="#fff" stroke-width="1.3" fill="none"/>
<path d="M687.3,407.2 L703.6,407.2" stroke="#fff" stroke-width="1.3" fill="none"/>
<path d="M687.3,411.1 L703.6,411.1" stroke="#fff" stroke-width="1.3" fill="none"/>
<path d="M687.3,415.0 L703.6,415.0" stroke="#fff" stroke-width="1.3" fill="none"/>
<path d="M687.3,418.9 L703.6,418.9" stroke="#fff" stroke-width="1.3" fill="none"/>
<ellipse cx="693.9" cy="448.0" rx="14.4" ry="8.2" fill="#fff" stroke="#000" stroke-width="2.2"/>
</g></g>
<path d="M1646.4,854.9 L1646.4,897.3 L1658.8,909.8 L1699.0,909.8 L1712.5,901.1 L1715.0,886.1 L1715.0,833.6 L1685.0,818.7 L1655.1,827.4 L1649.0,840.0 Z" stroke="#000" stroke-width="1.5" fill="#fff"/>
<path d="M1655.1,835.0 L1655.1,876.0" stroke="#000" stroke-width="1.4" fill="none"/>
<path d="M1690.0,835.0 L1690.0,872.0" stroke="#000" stroke-width="1.4" fill="none"/>
<path d="M1715.0,833.0 L1715.0,886.0" stroke="#000" stroke-width="1.4" fill="none"/>
<path d="M1655.1,827.4 L1685.0,818.7 L1713.8,833.6" stroke="#000" stroke-width="1.4" fill="none"/>
<path d="M1654.5,841.0 L1655.9,838.5 L1658.0,834.9 L1660.6,831.2 L1663.8,828.5 L1667.9,826.9 L1672.7,825.9 L1677.8,825.4 L1682.6,825.5 L1687.4,826.3 L1692.2,827.7 L1696.6,829.4 L1700.0,831.0 L1702.1,832.6 L1703.3,834.3 L1704.0,835.9 L1704.5,837.0" stroke="#0c0c0c" stroke-width="4.5" fill="none"/>
<path d="M1655.1,876.1 L1690.0,872.3 L1715.0,886.1" stroke="#000" stroke-width="1.4" fill="none"/>
<path d="M1648.8,897.3 L1650.4,895.1 L1652.6,891.9 L1655.4,888.6 L1658.8,886.1 L1662.9,884.5 L1667.7,883.3 L1672.7,882.6 L1677.6,882.3 L1682.4,882.4 L1687.2,882.8 L1691.9,883.7 L1696.3,884.8 L1700.6,886.3 L1704.9,888.2 L1708.6,890.2 L1711.3,892.3 L1712.9,894.4 L1713.5,896.5 L1713.4,898.8 L1712.5,901.1 L1710.3,903.7 L1707.0,906.6 L1703.6,909.2 L1701.3,911.0" stroke="#000" stroke-width="1.4" fill="none"/>
<path d="M1661.3,909.8 L1662.3,908.1 L1663.6,905.6 L1665.4,903.0 L1667.6,901.1 L1670.5,899.9 L1674.0,899.1 L1677.7,898.6 L1681.3,898.6 L1685.0,899.0 L1688.8,899.8 L1692.3,901.0 L1695.0,902.3 L1696.7,904.1 L1697.8,906.3 L1698.3,908.4 L1698.8,909.8" stroke="#000" stroke-width="1.8" fill="none"/>
<path d="M1771.0,628.0 L1771.0,641.9 L1771.1,661.7 L1771.1,684.9 L1771.1,709.0 L1771.1,731.6 L1771.0,750.0 L1770.9,764.1 L1770.9,775.9 L1770.8,786.1 L1770.5,795.4 L1769.9,804.8 L1769.0,815.0 L1767.7,826.0 L1766.0,837.2 L1764.1,848.4 L1761.9,859.4 L1759.5,870.0 L1757.0,880.0 L1754.2,889.3 L1751.1,898.2 L1747.8,906.7 L1744.4,914.8 L1741.1,922.5 L1738.0,930.0 L1735.1,937.2 L1732.3,944.1 L1729.6,950.6 L1726.9,956.8 L1724.4,962.6 L1722.0,968.0 L1719.8,972.9 L1717.8,977.4 L1715.9,981.5 L1714.0,985.3 L1712.1,988.7 L1710.0,992.0 L1707.8,995.1 L1705.4,998.1 L1703.1,1000.8 L1700.7,1003.0 L1698.3,1004.8 L1696.0,1006.0 L1693.7,1006.5 L1691.2,1006.5 L1688.8,1005.9 L1686.6,1005.0 L1684.6,1003.6 L1683.0,1002.0 L1681.9,1000.1 L1681.1,998.0 L1680.7,995.4 L1680.4,992.5 L1680.2,989.0 L1680.0,985.0 L1679.8,980.3 L1679.8,974.9 L1679.8,968.9 L1679.9,962.7 L1680.0,956.3 L1680.0,950.0 L1680.0,943.2 L1680.0,935.6 L1680.0,927.8 L1680.0,920.6 L1680.0,914.4 L1680.0,910.0" fill="none" stroke="#000" stroke-width="36.0" stroke-linejoin="round"/>
<path d="M1771.0,628.0 L1771.0,641.9 L1771.1,661.7 L1771.1,684.9 L1771.1,709.0 L1771.1,731.6 L1771.0,750.0 L1770.9,764.1 L1770.9,775.9 L1770.8,786.1 L1770.5,795.4 L1769.9,804.8 L1769.0,815.0 L1767.7,826.0 L1766.0,837.2 L1764.1,848.4 L1761.9,859.4 L1759.5,870.0 L1757.0,880.0 L1754.2,889.3 L1751.1,898.2 L1747.8,906.7 L1744.4,914.8 L1741.1,922.5 L1738.0,930.0 L1735.1,937.2 L1732.3,944.1 L1729.6,950.6 L1726.9,956.8 L1724.4,962.6 L1722.0,968.0 L1719.8,972.9 L1717.8,977.4 L1715.9,981.5 L1714.0,985.3 L1712.1,988.7 L1710.0,992.0 L1707.8,995.1 L1705.4,998.1 L1703.1,1000.8 L1700.7,1003.0 L1698.3,1004.8 L1696.0,1006.0 L1693.7,1006.5 L1691.2,1006.5 L1688.8,1005.9 L1686.6,1005.0 L1684.6,1003.6 L1683.0,1002.0 L1681.9,1000.1 L1681.1,998.0 L1680.7,995.4 L1680.4,992.5 L1680.2,989.0 L1680.0,985.0 L1679.8,980.3 L1679.8,974.9 L1679.8,968.9 L1679.9,962.7 L1680.0,956.3 L1680.0,950.0 L1680.0,943.2 L1680.0,935.6 L1680.0,927.8 L1680.0,920.6 L1680.0,914.4 L1680.0,910.0" fill="none" stroke="#fff" stroke-width="33" stroke-linejoin="round"/>
<path d="M1755.0,748.5 L1787.0,748.5" stroke="#000" stroke-width="1.4" fill="none"/>
<path d="M1755.0,752.0 L1787.0,752.0" stroke="#000" stroke-width="1.2" fill="none"/>
<path d="M1724.0,926.0 L1752.0,938.0" stroke="#000" stroke-width="1.3" fill="none"/>
<path d="M1663.5,940.0 L1696.5,940.0" stroke="#000" stroke-width="1.3" fill="none"/>
<g><g transform="translate(892 134)">
<path d="M994.7,742.8 L999.4,742.8 L1022.7,749.8 L1030.4,753.6 L1038.2,760.6 L1041.3,767.6 L1041.3,797.1 L1047.5,800.2 L1048.7,819.7 L1043.6,829.8 L999.4,830.5 L990.8,824.3 L990.8,804.9 L993.2,801.0 L991.6,790.9 L983.8,787.8 L972.2,783.2 L960.5,778.5 L952.0,774.6 L949.7,770.0 Z" stroke="#000" stroke-width="1.6" fill="#fff"/>
<path d="M994.7,764.5 L1014.9,767.6 L1016.5,768.4 L1016.5,788.6" stroke="#000" stroke-width="2.0" fill="none"/>
<path d="M993.2,788.6 L1014.9,770.7" stroke="#000" stroke-width="1.3" fill="none"/>
<path d="M1014.9,788.6 L1033.5,789.4 L1041.3,794.0" stroke="#000" stroke-width="1.5" fill="none"/>
<path d="M1041.3,767.6 L1041.3,797.1" stroke="#000" stroke-width="2.2" fill="none"/>
<path d="M1002.5,794.0 L1002.5,804.9" stroke="#000" stroke-width="1.5" fill="none"/>
<path d="M1032.0,794.0 L1032.0,803.3" stroke="#000" stroke-width="1.5" fill="none"/>
<path d="M990.8,804.9 L1002.5,794.0 L1032.0,794.0 L1047.5,800.2" stroke="#000" stroke-width="1.5" fill="none"/>
<path d="M968.3,742.0 L982.3,742.4 L991.6,743.5 L994.7,745.1 L994.7,764.5 L991.6,767.6 L990.0,781.6 L988.5,787.8 L983.8,785.5 L972.2,781.6 L960.5,778.5 L958.2,775.4 L964.4,758.3 L966.0,743.5 Z" stroke="#000" stroke-width="1.6" fill="url(#thr)"/>
<path d="M946.6,758.3 L951.2,744.3 L959.0,742.4 L968.3,742.0 L966.0,743.5 L964.4,758.3 L958.2,775.4 L952.0,774.6 L947.3,767.6 Z" stroke="#000" stroke-width="1.6" fill="#fff"/>
<ellipse cx="950.8" cy="758.3" rx="4.3" ry="15.9" fill="#fff" stroke="#000" stroke-width="1.6" transform="rotate(15.0 950.8 758.3)"/>
<path d="M960.5,743.5 L957.4,773.8" stroke="#000" stroke-width="1.2" fill="none"/>
<path d="M965.2,743.5 L961.3,775.4" stroke="#000" stroke-width="1.2" fill="none"/>
<ellipse cx="1019.6" cy="816.6" rx="25.6" ry="11.7" fill="#fff" stroke="#000" stroke-width="1.7"/>
<ellipse cx="1019.6" cy="817.3" rx="21.7" ry="9.3" fill="none" stroke="#000" stroke-width="1.4"/>
<path d="M999.4,820.4 L1040.5,820.4 L1040.5,843.7 L1036.7,850.0 L1026.6,854.6 L1012.6,854.6 L1003.3,850.0 L999.4,843.7 Z" stroke="#000" stroke-width="1.6" fill="url(#thr)"/>
<ellipse cx="1019.6" cy="816.2" rx="17.9" ry="5.4" fill="url(#thr)" stroke="#000" stroke-width="1.2"/>
<ellipse cx="1019.6" cy="846.1" rx="17.1" ry="8.5" fill="#fff" stroke="#000" stroke-width="1.8"/>
<ellipse cx="1018.8" cy="845.3" rx="10.1" ry="4.7" fill="#fff" stroke="#000" stroke-width="1.5"/>
<path d="M1018.8,841.4 L1018.8,851.5" stroke="#000" stroke-width="1.2" fill="none"/>
</g></g>
<g><g transform="translate(891 46)">
<path d="M969.6,903.6 L1019.1,876.8 L1095.3,919.4 L1095.3,1034.8 L1049.3,1060.2 L993.0,1031.3 L969.6,1020.3 Z" stroke="#000" stroke-width="1.5" fill="#fff"/>
<path d="M1019.1,876.8 L1019.1,990.8" stroke="#000" stroke-width="1.5" fill="none"/>
<path d="M969.6,1020.3 L1019.1,990.8 L1095.3,1034.8" stroke="#000" stroke-width="1.5" fill="none"/>
<path d="M1019.1,865.8 L1019.1,876.8" stroke="#000" stroke-width="1.3" fill="none"/>
<path d="M960.0,996.3 L969.6,992.2" stroke="#000" stroke-width="1.3" fill="none"/>
<path d="M993.7,1029.9 L995.7,1014.8 L1005.3,1008.0 L1019.1,1005.2 L1031.4,1006.6 L1041.0,1013.5 L1043.8,1027.2 L1049.3,1031.3 L1049.3,1060.2 L1045.2,1069.8 L1031.4,1078.0 L1006.7,1078.0 L993.0,1071.2 L990.2,1064.3 L990.2,1032.7 Z" stroke="#000" stroke-width="1.6" fill="#fff"/>
<path d="M998.5,1025.8 L1025.9,1021.0 L1049.3,1031.3" stroke="#000" stroke-width="1.6" fill="none"/>
<path d="M998.5,1025.8 L999.8,1051.9" stroke="#000" stroke-width="2.0" fill="none"/>
<path d="M1025.9,1021.0 L1025.9,1047.8" stroke="#000" stroke-width="2.0" fill="none"/>
<path d="M999.8,1051.9 L1025.9,1047.8 L1045.2,1060.2" stroke="#000" stroke-width="1.6" fill="none"/>
<ellipse cx="1019.1" cy="1067.0" rx="27.5" ry="13.5" fill="#fff" stroke="#000" stroke-width="1.7"/>
<ellipse cx="1080.2" cy="927.6" rx="6.9" ry="9.6" fill="#fff" stroke="#000" stroke-width="1.4" transform="rotate(-30.0 1080.2 927.6)"/>
<path d="M1076.8,932.4 L1095.3,919.4" stroke="#000" stroke-width="1.2" fill="none"/>
</g></g>
<path d="M1757.0,1082.0 L1764.8,1077.4 L1775.6,1071.1 L1788.4,1063.6 L1802.4,1055.5 L1816.5,1047.4 L1830.0,1040.0 L1843.4,1032.9 L1857.6,1025.6 L1872.0,1018.2 L1886.1,1011.2 L1899.3,1004.7 L1911.0,999.0 L1921.0,994.0 L1929.6,989.5 L1937.3,985.6 L1944.6,982.1 L1952.0,979.3 L1960.0,977.0 L1968.2,975.4 L1976.1,974.6 L1984.1,974.2 L1992.5,974.3 L2001.7,974.6 L2012.0,975.0 L2024.3,975.6 L2038.3,976.5 L2053.2,977.7 L2067.8,978.9 L2081.1,980.1 L2092.0,981.0 L2100.4,981.6 L2107.2,982.1 L2112.6,982.4 L2117.1,982.8 L2121.1,983.3 L2125.0,984.0 L2128.6,984.9 L2131.7,985.8 L2134.2,986.9 L2136.3,988.1 L2137.9,989.4 L2139.0,991.0 L2139.6,992.9 L2139.7,995.0 L2139.2,997.4 L2138.4,999.7 L2137.3,1002.0 L2136.0,1004.0 L2134.4,1005.6 L2132.6,1007.0 L2130.4,1008.2 L2127.9,1009.6 L2125.1,1011.1 L2122.0,1013.0 L2118.4,1015.4 L2114.4,1018.1 L2110.0,1021.1 L2105.5,1024.2 L2101.1,1027.2 L2097.0,1030.0 L2092.9,1032.8 L2088.6,1035.7 L2084.4,1038.6 L2080.6,1041.2 L2077.4,1043.4 L2075.0,1045.0" fill="none" stroke="#000" stroke-width="26.0" stroke-linejoin="round"/>
<path d="M1757.0,1082.0 L1764.8,1077.4 L1775.6,1071.1 L1788.4,1063.6 L1802.4,1055.5 L1816.5,1047.4 L1830.0,1040.0 L1843.4,1032.9 L1857.6,1025.6 L1872.0,1018.2 L1886.1,1011.2 L1899.3,1004.7 L1911.0,999.0 L1921.0,994.0 L1929.6,989.5 L1937.3,985.6 L1944.6,982.1 L1952.0,979.3 L1960.0,977.0 L1968.2,975.4 L1976.1,974.6 L1984.1,974.2 L1992.5,974.3 L2001.7,974.6 L2012.0,975.0 L2024.3,975.6 L2038.3,976.5 L2053.2,977.7 L2067.8,978.9 L2081.1,980.1 L2092.0,981.0 L2100.4,981.6 L2107.2,982.1 L2112.6,982.4 L2117.1,982.8 L2121.1,983.3 L2125.0,984.0 L2128.6,984.9 L2131.7,985.8 L2134.2,986.9 L2136.3,988.1 L2137.9,989.4 L2139.0,991.0 L2139.6,992.9 L2139.7,995.0 L2139.2,997.4 L2138.4,999.7 L2137.3,1002.0 L2136.0,1004.0 L2134.4,1005.6 L2132.6,1007.0 L2130.4,1008.2 L2127.9,1009.6 L2125.1,1011.1 L2122.0,1013.0 L2118.4,1015.4 L2114.4,1018.1 L2110.0,1021.1 L2105.5,1024.2 L2101.1,1027.2 L2097.0,1030.0 L2092.9,1032.8 L2088.6,1035.7 L2084.4,1038.6 L2080.6,1041.2 L2077.4,1043.4 L2075.0,1045.0" fill="none" stroke="#fff" stroke-width="23" stroke-linejoin="round"/>
<path d="M1903.0,988.0 L1918.0,1010.0" stroke="#000" stroke-width="1.3" fill="none"/>
<path d="M1910.0,985.0 L1925.0,1008.0" stroke="#000" stroke-width="1.2" fill="none"/>
<path d="M2010.0,963.0 L2010.0,987.0" stroke="#000" stroke-width="1.3" fill="none"/>
<path d="M2115.0,998.0 L2122.0,1012.0 L2118.0,1025.0" stroke="#000" stroke-width="1.3" fill="none"/>
<path d="M1989.8,997.9 L2017.9,1012.4 L2025.1,1020.5 L2025.1,1026.9" stroke="#000" stroke-width="1.3" fill="none"/>
<path d="M2017.9,1012.4 L2041.4,990.7" stroke="#000" stroke-width="1.3" fill="none"/>
<path d="M1989.8,1036.8 L2008.8,1031.4 L2018.8,1028.7 L2025.1,1026.9" stroke="#000" stroke-width="1.3" fill="none"/>
<path d="M1989.8,1042.2 L2010.6,1045.8 L2017.9,1035.9 L2045.0,1020.5 L2058.6,1064.8 L2077.5,1065.7 L2050.4,1082.9 L2035.0,1083.8 L2025.1,1079.3 L2014.2,1078.4 L2010.6,1058.5 L2000.7,1052.2 L1989.8,1049.5 Z" stroke="#000" stroke-width="1.4" fill="#fff"/>
<path d="M2017.9,1054.9 L2044.1,1041.3" stroke="#000" stroke-width="1.3" fill="none"/>
<path d="M2013.3,1050.4 L2013.4,1052.7 L2013.3,1056.0 L2013.6,1059.6 L2014.2,1063.0 L2015.6,1066.2 L2017.4,1069.3 L2019.4,1072.3 L2021.5,1074.8 L2023.8,1076.7 L2026.5,1078.2 L2028.9,1079.4 L2030.5,1080.2" stroke="#0c0c0c" stroke-width="4.5" fill="none"/>
<path d="M2045.0,1020.5 L2077.5,1020.5 L2083.9,1048.6 L2083.0,1061.2 L2077.5,1065.7 L2058.6,1064.8 L2045.0,1042.2 L2044.1,1029.6 Z" stroke="#000" stroke-width="1.5" fill="#fff"/>
<path d="M2050.4,1022.3 L2051.3,1025.7 L2052.5,1030.5 L2054.0,1035.8 L2055.8,1040.4 L2058.2,1044.4 L2060.9,1048.3 L2063.9,1051.6 L2066.7,1054.0 L2069.7,1054.9 L2072.8,1054.8 L2075.6,1054.3 L2077.5,1054.0" stroke="#000" stroke-width="1.4" fill="none"/>
<path d="M2057.6,1025.9 L2057.8,1028.6 L2058.0,1032.5 L2058.5,1036.7 L2059.5,1040.4 L2061.4,1043.6 L2064.1,1046.7 L2066.7,1049.4 L2068.5,1051.3" stroke="#000" stroke-width="1.3" fill="none"/>
<path d="M2066.7,1022.3 L2066.9,1023.9 L2067.1,1026.1 L2067.6,1028.6 L2068.5,1031.4 L2069.9,1034.5 L2071.8,1038.1 L2073.9,1041.5 L2075.7,1044.0 L2077.5,1045.5 L2079.3,1046.2 L2080.9,1046.5 L2082.1,1046.7" stroke="#0c0c0c" stroke-width="4.0" fill="none"/>
<path d="M2058.6,1049.5 L2058.6,1064.8" stroke="#000" stroke-width="1.3" fill="none"/>
<path d="M1660.4,1124.9 L1670.1,1114.2 L1698.1,1093.8 L1709.9,1083.0 L1736.8,1069.0 L1747.5,1064.7 L1773.3,1095.9 L1773.3,1104.5 L1766.9,1113.1 L1745.4,1128.2 L1734.6,1129.2 L1738.9,1147.5 L1769.0,1141.1 L1787.3,1144.3 L1794.8,1160.4 L1795.9,1179.8 L1786.2,1192.7 L1776.6,1200.2 L1768.0,1201.3 L1750.8,1199.1 L1742.2,1192.7 L1735.7,1185.2 L1714.2,1171.2 L1705.6,1168.0 L1678.7,1145.4 L1660.4,1129.2 Z" stroke="#000" stroke-width="1.5" fill="#fff"/>
<path d="M1700.2,1100.2 L1700.5,1102.6 L1700.9,1106.0 L1701.5,1109.7 L1702.4,1113.1 L1703.5,1116.1 L1704.8,1119.0 L1706.5,1121.6 L1708.8,1123.9 L1712.3,1125.7 L1716.7,1127.2 L1721.0,1128.4 L1723.9,1129.2" stroke="#0c0c0c" stroke-width="5" fill="none"/>
<path d="M1668.0,1119.6 L1680.9,1134.6 L1678.7,1143.2" stroke="#000" stroke-width="1.3" fill="none"/>
<path d="M1680.9,1134.6 L1704.5,1126.0" stroke="#000" stroke-width="1.3" fill="none"/>
<path d="M1707.7,1102.4 L1734.6,1088.4 L1747.5,1090.5" stroke="#000" stroke-width="1.3" fill="none"/>
<path d="M1726.0,1126.0 L1749.7,1108.8 L1766.9,1109.9" stroke="#000" stroke-width="1.3" fill="none"/>
<path d="M1705.6,1144.3 L1721.7,1133.5" stroke="#000" stroke-width="1.3" fill="none"/>
<path d="M1705.6,1144.3 L1726.0,1157.2 L1729.2,1147.5 L1737.8,1129.2" stroke="#000" stroke-width="1.3" fill="none"/>
<path d="M1740.0,1148.6 L1766.9,1162.6 L1751.8,1183.0 L1728.2,1168.0 L1726.0,1157.2" stroke="#000" stroke-width="1.3" fill="none"/>
<path d="M1713.1,1170.1 L1747.5,1184.1" stroke="#000" stroke-width="1.3" fill="none"/>
<path d="M1738.9,1070.1 L1739.5,1072.9 L1740.4,1076.9 L1741.6,1081.3 L1743.2,1085.2 L1745.4,1088.5 L1747.9,1091.8 L1750.8,1094.7 L1754.0,1097.0 L1757.8,1098.5 L1762.2,1099.3 L1766.2,1099.8 L1769.0,1100.2" stroke="#000" stroke-width="1.4" fill="none"/>
<path d="M1747.5,1069.0 L1748.0,1071.6 L1748.5,1075.4 L1749.4,1079.5 L1750.8,1083.0 L1752.7,1085.9 L1755.1,1088.5 L1757.7,1090.8 L1760.4,1092.7 L1763.5,1094.0 L1766.9,1094.9 L1770.1,1095.5 L1772.3,1095.9" stroke="#000" stroke-width="1.3" fill="none"/>
<path d="M1757.2,1069.0 L1757.2,1071.6 L1757.1,1075.3 L1757.3,1079.4 L1758.3,1083.0 L1760.5,1086.2 L1763.7,1089.3 L1766.9,1091.9 L1769.0,1093.8" stroke="#0c0c0c" stroke-width="3.5" fill="none"/>
<path d="M1768.0,1141.1 L1769.0,1169.0 L1750.8,1199.1" stroke="#000" stroke-width="1.3" fill="none"/>
<path d="M1777.6,1143.2 L1778.7,1169.0" stroke="#000" stroke-width="1.3" fill="none"/>
<path d="M1790.5,1158.3 L1791.5,1160.7 L1793.0,1164.3 L1794.3,1168.3 L1794.8,1172.3 L1794.5,1176.2 L1793.7,1180.5 L1792.3,1184.6 L1790.5,1188.4 L1787.8,1191.9 L1784.4,1195.3 L1781.0,1198.2 L1778.7,1200.2" stroke="#0c0c0c" stroke-width="5" fill="none"/>
</svg></body></html>
